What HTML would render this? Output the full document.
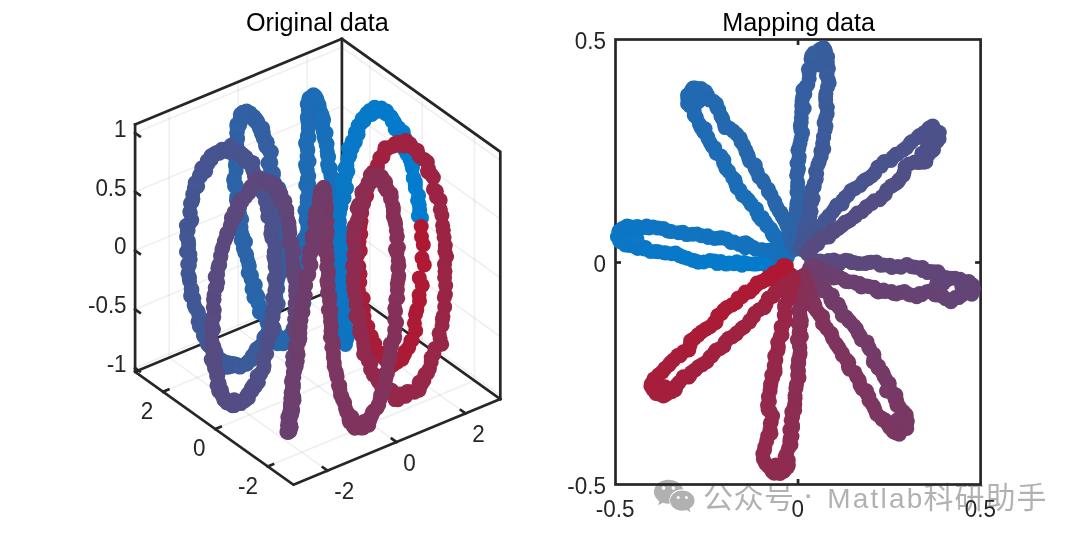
<!DOCTYPE html>
<html lang="zh"><head><meta charset="utf-8"><title>Original data / Mapping data</title>
<style>
html,body{margin:0;padding:0;background:#fff;}
body{width:1080px;height:539px;overflow:hidden;}
svg{display:block;font-family:"Liberation Sans","Noto Sans CJK SC",sans-serif;}
</style></head><body>
<svg width="1080" height="539" viewBox="0 0 1080 539">
<rect width="1080" height="539" fill="#fff"/>
<g stroke="#262626" stroke-opacity="0.07" stroke-width="1.7" fill="none">
<line x1="327.55" y1="470.67" x2="169.15" y2="357.67" />
<line x1="169.15" y1="357.67" x2="169.15" y2="110.47" />
<line x1="396.55" y1="442.04" x2="238.15" y2="329.04" />
<line x1="238.15" y1="329.04" x2="238.15" y2="81.84" />
<line x1="465.56" y1="413.41" x2="307.16" y2="300.41" />
<line x1="307.16" y1="300.41" x2="307.16" y2="53.21" />
<line x1="267.69" y1="466.39" x2="474.49" y2="380.59" />
<line x1="474.49" y1="380.59" x2="474.49" y2="133.39" />
<line x1="215.35" y1="429.05" x2="422.15" y2="343.25" />
<line x1="422.15" y1="343.25" x2="422.15" y2="96.05" />
<line x1="163.00" y1="391.70" x2="369.80" y2="305.90" />
<line x1="369.80" y1="305.90" x2="369.80" y2="58.70" />
<line x1="135.10" y1="368.10" x2="341.90" y2="282.30" />
<line x1="341.90" y1="282.30" x2="500.30" y2="395.30" />
<line x1="135.10" y1="309.33" x2="341.90" y2="223.53" />
<line x1="341.90" y1="223.53" x2="500.30" y2="336.53" />
<line x1="135.10" y1="250.56" x2="341.90" y2="164.76" />
<line x1="341.90" y1="164.76" x2="500.30" y2="277.76" />
<line x1="135.10" y1="191.79" x2="341.90" y2="105.99" />
<line x1="341.90" y1="105.99" x2="500.30" y2="218.99" />
<line x1="135.10" y1="133.02" x2="341.90" y2="47.22" />
<line x1="341.90" y1="47.22" x2="500.30" y2="160.22" />
</g>
<g stroke="#262626" stroke-width="2.70" fill="none" stroke-linecap="square" stroke-linejoin="miter">
<polyline points="135.10,371.80 341.90,286.00 500.30,399.00"/>
<polyline points="341.90,286.00 341.90,38.80"/>
<polyline points="135.10,124.60 341.90,38.80 500.30,151.80 500.30,399.00"/>
<polyline points="135.10,124.60 135.10,371.80 293.50,484.80 500.30,399.00"/>
<line x1="327.55" y1="470.67" x2="322.83" y2="467.30" />
<line x1="396.55" y1="442.04" x2="391.83" y2="438.67" />
<line x1="465.56" y1="413.41" x2="460.84" y2="410.05" />
<line x1="267.69" y1="466.39" x2="273.05" y2="464.17" />
<line x1="215.35" y1="429.05" x2="220.70" y2="426.82" />
<line x1="163.00" y1="391.70" x2="168.36" y2="389.48" />
<line x1="135.10" y1="368.10" x2="139.82" y2="371.47" />
<line x1="135.10" y1="309.33" x2="139.82" y2="312.70" />
<line x1="135.10" y1="250.56" x2="139.82" y2="253.93" />
<line x1="135.10" y1="191.79" x2="139.82" y2="195.15" />
<line x1="135.10" y1="133.02" x2="139.82" y2="136.38" />
</g>
<g><circle cx="335.4" cy="213.3" r="7.5" fill="#1671bc"/><circle cx="336.6" cy="214.7" r="7.5" fill="#1571bc"/><circle cx="335.0" cy="202.6" r="7.5" fill="#1671bc"/><circle cx="338.9" cy="222.6" r="7.5" fill="#1571bc"/><circle cx="336.7" cy="201.1" r="7.5" fill="#1671bc"/><circle cx="339.3" cy="220.9" r="7.5" fill="#1571bc"/><circle cx="335.0" cy="197.6" r="7.5" fill="#1670bb"/><circle cx="339.4" cy="229.4" r="7.5" fill="#1571bc"/><circle cx="333.7" cy="192.9" r="7.5" fill="#1670bb"/><circle cx="340.3" cy="232.8" r="7.5" fill="#1571bc"/><circle cx="333.9" cy="188.9" r="7.5" fill="#1670bb"/><circle cx="339.7" cy="236.9" r="7.5" fill="#1571bc"/><circle cx="332.9" cy="185.7" r="7.5" fill="#1670bb"/><circle cx="339.5" cy="241.1" r="7.5" fill="#1571bd"/><circle cx="332.8" cy="180.1" r="7.5" fill="#1670bb"/><circle cx="342.9" cy="241.8" r="7.5" fill="#1571bd"/><circle cx="333.3" cy="178.4" r="7.5" fill="#1770bb"/><circle cx="342.3" cy="249.1" r="7.5" fill="#1471bd"/><circle cx="330.8" cy="175.8" r="7.5" fill="#1770bb"/><circle cx="343.5" cy="254.2" r="7.5" fill="#1471bd"/><circle cx="328.7" cy="169.0" r="7.5" fill="#1770bb"/><circle cx="341.5" cy="258.1" r="7.5" fill="#1471bd"/><circle cx="330.4" cy="168.4" r="7.5" fill="#1770bb"/><circle cx="342.5" cy="262.6" r="7.5" fill="#1471bd"/><circle cx="327.6" cy="164.6" r="7.5" fill="#1770ba"/><circle cx="343.8" cy="268.0" r="7.5" fill="#1472bd"/><circle cx="328.6" cy="156.9" r="7.5" fill="#1770ba"/><circle cx="341.9" cy="267.7" r="7.5" fill="#1472bd"/><circle cx="327.5" cy="155.5" r="7.5" fill="#1770ba"/><circle cx="344.3" cy="273.5" r="7.5" fill="#1472bd"/><circle cx="327.2" cy="151.2" r="7.5" fill="#1770ba"/><circle cx="343.8" cy="275.2" r="7.5" fill="#1472be"/><circle cx="326.2" cy="145.2" r="7.5" fill="#1870ba"/><circle cx="344.2" cy="282.5" r="7.5" fill="#1372be"/><circle cx="327.1" cy="143.7" r="7.5" fill="#186fba"/><circle cx="344.0" cy="285.5" r="7.5" fill="#1372be"/><circle cx="324.7" cy="139.6" r="7.5" fill="#186fba"/><circle cx="343.3" cy="285.4" r="7.5" fill="#1372be"/><circle cx="324.2" cy="136.6" r="7.5" fill="#186fba"/><circle cx="344.2" cy="293.2" r="7.5" fill="#1372be"/><circle cx="326.1" cy="132.8" r="7.5" fill="#186fba"/><circle cx="344.4" cy="291.8" r="7.5" fill="#1372be"/><circle cx="323.2" cy="131.4" r="7.5" fill="#186fb9"/><circle cx="345.5" cy="299.0" r="7.5" fill="#1372be"/><circle cx="322.5" cy="125.2" r="7.5" fill="#186fb9"/><circle cx="346.2" cy="298.7" r="7.5" fill="#1372be"/><circle cx="322.5" cy="126.7" r="7.5" fill="#186fb9"/><circle cx="346.2" cy="302.2" r="7.5" fill="#1372be"/><circle cx="323.6" cy="119.7" r="7.5" fill="#186fb9"/><circle cx="346.5" cy="304.6" r="7.5" fill="#1272bf"/><circle cx="322.5" cy="120.3" r="7.5" fill="#196fb9"/><circle cx="344.4" cy="310.5" r="7.5" fill="#1272bf"/><circle cx="322.2" cy="116.3" r="7.5" fill="#196fb9"/><circle cx="344.7" cy="310.6" r="7.5" fill="#1273bf"/><circle cx="322.0" cy="114.7" r="7.5" fill="#196fb9"/><circle cx="346.4" cy="311.0" r="7.5" fill="#1273bf"/><circle cx="320.5" cy="111.9" r="7.5" fill="#196fb9"/><circle cx="347.6" cy="319.0" r="7.5" fill="#1273bf"/><circle cx="247.2" cy="259.1" r="7.5" fill="#2a65a9"/><circle cx="248.7" cy="263.8" r="7.5" fill="#2a65a9"/><circle cx="246.6" cy="254.3" r="7.5" fill="#2b65a9"/><circle cx="249.3" cy="266.5" r="7.5" fill="#2a65a9"/><circle cx="243.4" cy="248.6" r="7.5" fill="#2b65a9"/><circle cx="248.2" cy="272.7" r="7.5" fill="#2a65aa"/><circle cx="244.9" cy="252.7" r="7.5" fill="#2b64a9"/><circle cx="251.5" cy="275.3" r="7.5" fill="#2a65aa"/><circle cx="245.5" cy="241.7" r="7.5" fill="#2b64a9"/><circle cx="251.0" cy="278.7" r="7.5" fill="#2a65aa"/><circle cx="241.2" cy="240.4" r="7.5" fill="#2b64a9"/><circle cx="318.0" cy="110.3" r="7.5" fill="#196fb9"/><circle cx="252.9" cy="283.3" r="7.5" fill="#2a65aa"/><circle cx="242.8" cy="236.8" r="7.5" fill="#2b64a9"/><circle cx="255.3" cy="284.8" r="7.5" fill="#2a65aa"/><circle cx="345.5" cy="320.7" r="7.5" fill="#1273bf"/><circle cx="241.7" cy="233.2" r="7.5" fill="#2b64a8"/><circle cx="252.0" cy="289.0" r="7.5" fill="#2965aa"/><circle cx="241.0" cy="227.6" r="7.5" fill="#2b64a8"/><circle cx="253.9" cy="297.4" r="7.5" fill="#2965aa"/><circle cx="319.1" cy="107.5" r="7.5" fill="#196fb8"/><circle cx="240.2" cy="226.1" r="7.5" fill="#2b64a8"/><circle cx="256.5" cy="294.4" r="7.5" fill="#2965aa"/><circle cx="241.7" cy="219.2" r="7.5" fill="#2c64a8"/><circle cx="345.4" cy="320.1" r="7.5" fill="#1273bf"/><circle cx="257.8" cy="296.5" r="7.5" fill="#2965aa"/><circle cx="237.5" cy="220.9" r="7.5" fill="#2c64a8"/><circle cx="258.1" cy="303.4" r="7.5" fill="#2966ab"/><circle cx="319.0" cy="104.7" r="7.5" fill="#196eb8"/><circle cx="239.7" cy="214.5" r="7.5" fill="#2c64a8"/><circle cx="260.0" cy="306.0" r="7.5" fill="#2966ab"/><circle cx="345.2" cy="321.5" r="7.5" fill="#1273bf"/><circle cx="237.1" cy="208.3" r="7.5" fill="#2c64a8"/><circle cx="259.9" cy="311.7" r="7.5" fill="#2966ab"/><circle cx="317.8" cy="103.7" r="7.5" fill="#196eb8"/><circle cx="239.5" cy="207.9" r="7.5" fill="#2c64a8"/><circle cx="259.4" cy="312.1" r="7.5" fill="#2966ab"/><circle cx="346.7" cy="329.7" r="7.5" fill="#1173bf"/><circle cx="236.5" cy="200.5" r="7.5" fill="#2c64a8"/><circle cx="264.0" cy="312.8" r="7.5" fill="#2866ab"/><circle cx="317.3" cy="104.0" r="7.5" fill="#1a6eb8"/><circle cx="238.3" cy="194.9" r="7.5" fill="#2c64a7"/><circle cx="265.8" cy="317.0" r="7.5" fill="#2866ab"/><circle cx="347.5" cy="331.4" r="7.5" fill="#1173c0"/><circle cx="236.7" cy="196.8" r="7.5" fill="#2c63a7"/><circle cx="266.4" cy="319.6" r="7.5" fill="#2866ab"/><circle cx="316.5" cy="102.5" r="7.5" fill="#1a6eb8"/><circle cx="236.0" cy="186.9" r="7.5" fill="#2d63a7"/><circle cx="266.4" cy="319.1" r="7.5" fill="#2866ab"/><circle cx="347.0" cy="330.2" r="7.5" fill="#1173c0"/><circle cx="234.5" cy="186.0" r="7.5" fill="#2d63a7"/><circle cx="267.2" cy="323.3" r="7.5" fill="#2866ab"/><circle cx="317.0" cy="99.4" r="7.5" fill="#1a6eb8"/><circle cx="236.3" cy="185.3" r="7.5" fill="#2d63a7"/><circle cx="346.2" cy="331.8" r="7.5" fill="#1173c0"/><circle cx="269.2" cy="328.9" r="7.5" fill="#2866ac"/><circle cx="315.1" cy="101.3" r="7.5" fill="#1a6eb8"/><circle cx="233.6" cy="179.9" r="7.5" fill="#2d63a7"/><circle cx="269.8" cy="326.5" r="7.5" fill="#2866ac"/><circle cx="345.2" cy="331.3" r="7.5" fill="#1173c0"/><circle cx="234.4" cy="177.9" r="7.5" fill="#2d63a7"/><circle cx="273.1" cy="328.4" r="7.5" fill="#2866ac"/><circle cx="315.4" cy="96.6" r="7.5" fill="#1a6eb8"/><circle cx="236.1" cy="170.8" r="7.5" fill="#2d63a7"/><circle cx="273.4" cy="329.1" r="7.5" fill="#2766ac"/><circle cx="346.2" cy="335.8" r="7.5" fill="#1173c0"/><circle cx="315.2" cy="100.0" r="7.5" fill="#1a6eb8"/><circle cx="236.1" cy="167.7" r="7.5" fill="#2d63a7"/><circle cx="274.3" cy="329.1" r="7.5" fill="#2766ac"/><circle cx="345.6" cy="334.2" r="7.5" fill="#1173c0"/><circle cx="235.4" cy="164.9" r="7.5" fill="#2d63a6"/><circle cx="275.7" cy="334.0" r="7.5" fill="#2767ac"/><circle cx="313.5" cy="94.8" r="7.5" fill="#1a6eb8"/><circle cx="347.7" cy="336.4" r="7.5" fill="#1173c0"/><circle cx="275.9" cy="334.2" r="7.5" fill="#2767ac"/><circle cx="235.9" cy="159.3" r="7.5" fill="#2e63a6"/><circle cx="313.3" cy="98.5" r="7.5" fill="#1a6eb7"/><circle cx="276.8" cy="336.5" r="7.5" fill="#2767ac"/><circle cx="234.0" cy="154.9" r="7.5" fill="#2e63a6"/><circle cx="345.0" cy="336.7" r="7.5" fill="#1074c0"/><circle cx="277.7" cy="339.9" r="7.5" fill="#2767ac"/><circle cx="236.1" cy="155.6" r="7.5" fill="#2e63a6"/><circle cx="314.1" cy="97.9" r="7.5" fill="#1b6eb7"/><circle cx="347.0" cy="337.3" r="7.5" fill="#1074c0"/><circle cx="277.8" cy="337.9" r="7.5" fill="#2767ad"/><circle cx="234.2" cy="150.6" r="7.5" fill="#2e63a6"/><circle cx="314.8" cy="96.8" r="7.5" fill="#1b6eb7"/><circle cx="277.5" cy="343.7" r="7.5" fill="#2767ad"/><circle cx="345.1" cy="337.3" r="7.5" fill="#1074c1"/><circle cx="233.7" cy="148.7" r="7.5" fill="#2e63a6"/><circle cx="313.0" cy="96.6" r="7.5" fill="#1b6eb7"/><circle cx="280.7" cy="337.8" r="7.5" fill="#2667ad"/><circle cx="235.4" cy="145.5" r="7.5" fill="#2e62a6"/><circle cx="345.5" cy="344.4" r="7.5" fill="#1074c1"/><circle cx="280.8" cy="338.8" r="7.5" fill="#2667ad"/><circle cx="314.1" cy="97.1" r="7.5" fill="#1b6eb7"/><circle cx="236.2" cy="141.5" r="7.5" fill="#2e62a6"/><circle cx="345.9" cy="340.8" r="7.5" fill="#1074c1"/><circle cx="283.8" cy="341.2" r="7.5" fill="#2667ad"/><circle cx="313.7" cy="95.6" r="7.5" fill="#1b6db7"/><circle cx="236.7" cy="144.4" r="7.5" fill="#2e62a6"/><circle cx="344.6" cy="341.6" r="7.5" fill="#1074c1"/><circle cx="283.4" cy="343.8" r="7.5" fill="#2667ad"/><circle cx="237.6" cy="139.0" r="7.5" fill="#2f62a5"/><circle cx="310.1" cy="98.6" r="7.5" fill="#1b6db7"/><circle cx="285.1" cy="340.0" r="7.5" fill="#2667ad"/><circle cx="346.2" cy="340.6" r="7.5" fill="#1074c1"/><circle cx="237.3" cy="137.3" r="7.5" fill="#2f62a5"/><circle cx="311.9" cy="96.5" r="7.5" fill="#1b6db7"/><circle cx="284.2" cy="341.1" r="7.5" fill="#2667ad"/><circle cx="344.4" cy="342.6" r="7.5" fill="#1074c1"/><circle cx="237.2" cy="132.6" r="7.5" fill="#2f62a5"/><circle cx="417.9" cy="200.3" r="7.5" fill="#017dcf"/><circle cx="419.3" cy="205.1" r="7.5" fill="#007dcf"/><circle cx="417.7" cy="200.4" r="7.5" fill="#017dce"/><circle cx="419.7" cy="210.6" r="7.5" fill="#007dcf"/><circle cx="418.6" cy="195.4" r="7.5" fill="#017dce"/><circle cx="418.4" cy="215.9" r="7.5" fill="#007dcf"/><circle cx="415.3" cy="187.9" r="7.5" fill="#017cce"/><circle cx="421.5" cy="217.9" r="7.5" fill="#007dcf"/><circle cx="415.3" cy="184.5" r="7.5" fill="#017cce"/><circle cx="415.3" cy="181.7" r="7.5" fill="#017cce"/><circle cx="421.2" cy="226.5" r="7.5" fill="#b01832"/><circle cx="310.5" cy="101.4" r="7.5" fill="#1b6db7"/><circle cx="285.5" cy="338.5" r="7.5" fill="#2667ad"/><circle cx="413.5" cy="177.9" r="7.5" fill="#017cce"/><circle cx="413.3" cy="177.9" r="7.5" fill="#017cce"/><circle cx="421.5" cy="236.8" r="7.5" fill="#b01832"/><circle cx="412.4" cy="168.1" r="7.5" fill="#027cce"/><circle cx="236.7" cy="133.1" r="7.5" fill="#2f62a5"/><circle cx="343.8" cy="337.4" r="7.5" fill="#0f74c1"/><circle cx="412.5" cy="165.2" r="7.5" fill="#027cce"/><circle cx="423.3" cy="244.8" r="7.5" fill="#af1833"/><circle cx="411.5" cy="163.9" r="7.5" fill="#027ccd"/><circle cx="284.7" cy="339.9" r="7.5" fill="#2667ad"/><circle cx="310.9" cy="98.2" r="7.5" fill="#1c6db6"/><circle cx="409.8" cy="158.9" r="7.5" fill="#027ccd"/><circle cx="406.9" cy="154.0" r="7.5" fill="#027ccd"/><circle cx="422.0" cy="258.0" r="7.5" fill="#af1933"/><circle cx="237.3" cy="129.1" r="7.5" fill="#2f62a5"/><circle cx="346.3" cy="338.2" r="7.5" fill="#0f74c1"/><circle cx="407.7" cy="148.8" r="7.5" fill="#027ccd"/><circle cx="287.7" cy="341.1" r="7.5" fill="#2568ae"/><circle cx="408.6" cy="146.8" r="7.5" fill="#027ccd"/><circle cx="424.3" cy="264.9" r="7.5" fill="#af1933"/><circle cx="308.9" cy="98.3" r="7.5" fill="#1c6db6"/><circle cx="404.3" cy="149.5" r="7.5" fill="#027ccd"/><circle cx="237.0" cy="127.1" r="7.5" fill="#2f62a5"/><circle cx="404.5" cy="141.5" r="7.5" fill="#037ccd"/><circle cx="288.7" cy="339.1" r="7.5" fill="#2568ae"/><circle cx="342.9" cy="338.0" r="7.5" fill="#0f74c1"/><circle cx="419.3" cy="277.9" r="7.5" fill="#ae1933"/><circle cx="405.3" cy="138.7" r="7.5" fill="#037bcd"/><circle cx="310.9" cy="98.6" r="7.5" fill="#1c6db6"/><circle cx="403.0" cy="136.2" r="7.5" fill="#037bcd"/><circle cx="239.6" cy="125.3" r="7.5" fill="#2f62a5"/><circle cx="289.4" cy="335.4" r="7.5" fill="#2568ae"/><circle cx="422.3" cy="285.4" r="7.5" fill="#ae1934"/><circle cx="344.4" cy="335.2" r="7.5" fill="#0f74c2"/><circle cx="403.3" cy="132.0" r="7.5" fill="#037bcc"/><circle cx="307.2" cy="104.1" r="7.5" fill="#1c6db6"/><circle cx="398.5" cy="129.7" r="7.5" fill="#037bcc"/><circle cx="236.8" cy="124.4" r="7.5" fill="#2f62a5"/><circle cx="290.1" cy="337.4" r="7.5" fill="#2568ae"/><circle cx="419.1" cy="295.0" r="7.5" fill="#ae1934"/><circle cx="398.7" cy="127.9" r="7.5" fill="#037bcc"/><circle cx="343.0" cy="337.1" r="7.5" fill="#0f74c2"/><circle cx="395.2" cy="128.9" r="7.5" fill="#037bcc"/><circle cx="308.6" cy="106.0" r="7.5" fill="#1c6db6"/><circle cx="238.8" cy="125.4" r="7.5" fill="#3062a5"/><circle cx="291.7" cy="335.0" r="7.5" fill="#2568ae"/><circle cx="395.9" cy="125.6" r="7.5" fill="#037bcc"/><circle cx="419.5" cy="301.0" r="7.5" fill="#ae1934"/><circle cx="342.1" cy="336.5" r="7.5" fill="#0f74c2"/><circle cx="394.2" cy="121.9" r="7.5" fill="#047bcc"/><circle cx="291.7" cy="333.6" r="7.5" fill="#2568ae"/><circle cx="309.8" cy="104.5" r="7.5" fill="#1c6db6"/><circle cx="241.0" cy="118.9" r="7.5" fill="#3062a4"/><circle cx="394.7" cy="124.0" r="7.5" fill="#047bcc"/><circle cx="416.8" cy="309.7" r="7.5" fill="#ad1934"/><circle cx="342.2" cy="334.6" r="7.5" fill="#0f75c2"/><circle cx="392.1" cy="121.1" r="7.5" fill="#047bcc"/><circle cx="294.5" cy="333.8" r="7.5" fill="#2568ae"/><circle cx="309.4" cy="111.5" r="7.5" fill="#1c6db6"/><circle cx="240.3" cy="118.0" r="7.5" fill="#3062a4"/><circle cx="391.7" cy="117.7" r="7.5" fill="#047bcc"/><circle cx="342.6" cy="336.4" r="7.5" fill="#0f75c2"/><circle cx="415.5" cy="314.3" r="7.5" fill="#ad1a35"/><circle cx="294.3" cy="334.1" r="7.5" fill="#2568ae"/><circle cx="390.8" cy="116.6" r="7.5" fill="#047bcb"/><circle cx="309.0" cy="109.6" r="7.5" fill="#1c6db6"/><circle cx="240.4" cy="114.2" r="7.5" fill="#3061a4"/><circle cx="389.6" cy="115.8" r="7.5" fill="#047bcb"/><circle cx="293.2" cy="328.5" r="7.5" fill="#2468ae"/><circle cx="342.5" cy="329.8" r="7.5" fill="#0e75c2"/><circle cx="414.4" cy="323.2" r="7.5" fill="#ad1a35"/><circle cx="308.3" cy="109.9" r="7.5" fill="#1d6db6"/><circle cx="240.4" cy="118.0" r="7.5" fill="#3061a4"/><circle cx="386.6" cy="111.1" r="7.5" fill="#047bcb"/><circle cx="294.6" cy="329.4" r="7.5" fill="#2468af"/><circle cx="386.2" cy="114.0" r="7.5" fill="#047acb"/><circle cx="342.4" cy="331.7" r="7.5" fill="#0e75c2"/><circle cx="308.8" cy="115.6" r="7.5" fill="#1d6db5"/><circle cx="243.8" cy="114.6" r="7.5" fill="#3061a4"/><circle cx="415.7" cy="330.8" r="7.5" fill="#ad1a35"/><circle cx="384.7" cy="112.2" r="7.5" fill="#057acb"/><circle cx="296.8" cy="325.0" r="7.5" fill="#2468af"/><circle cx="340.3" cy="333.9" r="7.5" fill="#0e75c2"/><circle cx="383.1" cy="110.0" r="7.5" fill="#057acb"/><circle cx="309.7" cy="117.4" r="7.5" fill="#1d6cb5"/><circle cx="242.8" cy="112.3" r="7.5" fill="#3061a4"/><circle cx="296.5" cy="323.1" r="7.5" fill="#2468af"/><circle cx="380.8" cy="109.0" r="7.5" fill="#057acb"/><circle cx="412.2" cy="340.0" r="7.5" fill="#ac1a35"/><circle cx="341.2" cy="323.0" r="7.5" fill="#0e75c2"/><circle cx="307.3" cy="117.1" r="7.5" fill="#1d6cb5"/><circle cx="297.4" cy="323.7" r="7.5" fill="#2468af"/><circle cx="381.3" cy="108.0" r="7.5" fill="#057acb"/><circle cx="245.0" cy="117.4" r="7.5" fill="#3061a4"/><circle cx="340.5" cy="328.5" r="7.5" fill="#0e75c3"/><circle cx="378.2" cy="111.3" r="7.5" fill="#057acb"/><circle cx="307.7" cy="120.1" r="7.5" fill="#1d6cb5"/><circle cx="296.9" cy="321.2" r="7.5" fill="#2468af"/><circle cx="410.8" cy="340.9" r="7.5" fill="#ac1a35"/><circle cx="246.2" cy="113.8" r="7.5" fill="#3161a4"/><circle cx="376.1" cy="109.9" r="7.5" fill="#057aca"/><circle cx="308.3" cy="123.1" r="7.5" fill="#1d6cb5"/><circle cx="341.1" cy="321.8" r="7.5" fill="#0e75c3"/><circle cx="297.8" cy="319.7" r="7.5" fill="#2469af"/><circle cx="376.1" cy="111.0" r="7.5" fill="#057aca"/><circle cx="244.2" cy="113.0" r="7.5" fill="#3161a4"/><circle cx="408.7" cy="347.6" r="7.5" fill="#ac1a36"/><circle cx="308.8" cy="126.5" r="7.5" fill="#1d6cb5"/><circle cx="299.2" cy="317.6" r="7.5" fill="#2469af"/><circle cx="342.9" cy="323.0" r="7.5" fill="#0e75c3"/><circle cx="374.6" cy="107.2" r="7.5" fill="#057aca"/><circle cx="246.8" cy="114.0" r="7.5" fill="#3161a3"/><circle cx="374.8" cy="109.6" r="7.5" fill="#057aca"/><circle cx="300.5" cy="308.7" r="7.5" fill="#2369af"/><circle cx="308.3" cy="128.0" r="7.5" fill="#1d6cb5"/><circle cx="342.3" cy="317.4" r="7.5" fill="#0e75c3"/><circle cx="372.4" cy="110.0" r="7.5" fill="#067aca"/><circle cx="404.8" cy="351.8" r="7.5" fill="#ac1b36"/><circle cx="298.0" cy="309.3" r="7.5" fill="#2369af"/><circle cx="246.7" cy="111.0" r="7.5" fill="#3161a3"/><circle cx="307.9" cy="134.2" r="7.5" fill="#1e6cb5"/><circle cx="341.0" cy="313.2" r="7.5" fill="#0e75c3"/><circle cx="371.8" cy="114.4" r="7.5" fill="#067aca"/><circle cx="300.6" cy="309.4" r="7.5" fill="#2369b0"/><circle cx="307.4" cy="136.5" r="7.5" fill="#1e6cb5"/><circle cx="247.4" cy="115.0" r="7.5" fill="#3161a3"/><circle cx="369.9" cy="110.4" r="7.5" fill="#067aca"/><circle cx="340.4" cy="314.4" r="7.5" fill="#0d75c3"/><circle cx="404.5" cy="354.1" r="7.5" fill="#ab1b36"/><circle cx="299.3" cy="304.6" r="7.5" fill="#2369b0"/><circle cx="309.0" cy="137.7" r="7.5" fill="#1e6cb4"/><circle cx="367.6" cy="112.9" r="7.5" fill="#067aca"/><circle cx="250.1" cy="115.5" r="7.5" fill="#3161a3"/><circle cx="339.6" cy="307.4" r="7.5" fill="#0d75c3"/><circle cx="303.9" cy="303.0" r="7.5" fill="#2369b0"/><circle cx="366.8" cy="113.6" r="7.5" fill="#0679ca"/><circle cx="305.5" cy="143.1" r="7.5" fill="#1e6cb4"/><circle cx="402.1" cy="359.2" r="7.5" fill="#ab1b36"/><circle cx="301.6" cy="299.3" r="7.5" fill="#2369b0"/><circle cx="340.6" cy="303.8" r="7.5" fill="#0d75c3"/><circle cx="249.8" cy="115.3" r="7.5" fill="#3161a3"/><circle cx="364.8" cy="118.1" r="7.5" fill="#0679c9"/><circle cx="306.9" cy="146.4" r="7.5" fill="#1e6cb4"/><circle cx="302.6" cy="296.7" r="7.5" fill="#2369b0"/><circle cx="365.0" cy="116.8" r="7.5" fill="#0679c9"/><circle cx="337.3" cy="307.6" r="7.5" fill="#0d76c3"/><circle cx="307.5" cy="149.2" r="7.5" fill="#1e6cb4"/><circle cx="250.1" cy="112.9" r="7.5" fill="#3161a3"/><circle cx="302.6" cy="290.3" r="7.5" fill="#2369b0"/><circle cx="363.2" cy="119.7" r="7.5" fill="#0679c9"/><circle cx="397.1" cy="362.2" r="7.5" fill="#ab1b37"/><circle cx="307.8" cy="150.5" r="7.5" fill="#1e6cb4"/><circle cx="338.6" cy="301.2" r="7.5" fill="#0d76c4"/><circle cx="303.8" cy="286.3" r="7.5" fill="#2269b0"/><circle cx="364.0" cy="120.8" r="7.5" fill="#0779c9"/><circle cx="252.0" cy="116.2" r="7.5" fill="#3261a3"/><circle cx="307.1" cy="156.5" r="7.5" fill="#1e6cb4"/><circle cx="340.4" cy="296.0" r="7.5" fill="#0d76c4"/><circle cx="303.3" cy="283.6" r="7.5" fill="#2269b0"/><circle cx="362.1" cy="118.7" r="7.5" fill="#0779c9"/><circle cx="309.1" cy="161.5" r="7.5" fill="#1f6bb4"/><circle cx="251.7" cy="115.8" r="7.5" fill="#3261a3"/><circle cx="396.3" cy="359.3" r="7.5" fill="#ab1b37"/><circle cx="303.9" cy="279.2" r="7.5" fill="#2269b0"/><circle cx="361.3" cy="123.0" r="7.5" fill="#0779c9"/><circle cx="338.7" cy="295.2" r="7.5" fill="#0d76c4"/><circle cx="305.5" cy="164.7" r="7.5" fill="#1f6bb4"/><circle cx="301.5" cy="277.1" r="7.5" fill="#2269b1"/><circle cx="358.1" cy="125.5" r="7.5" fill="#0779c9"/><circle cx="254.0" cy="116.6" r="7.5" fill="#3260a3"/><circle cx="340.6" cy="293.3" r="7.5" fill="#0d76c4"/><circle cx="306.7" cy="168.4" r="7.5" fill="#1f6bb4"/><circle cx="304.3" cy="271.9" r="7.5" fill="#2269b1"/><circle cx="357.9" cy="130.5" r="7.5" fill="#0779c9"/><circle cx="307.2" cy="170.6" r="7.5" fill="#1f6bb3"/><circle cx="394.5" cy="363.4" r="7.5" fill="#aa1b37"/><circle cx="303.2" cy="271.0" r="7.5" fill="#226ab1"/><circle cx="338.5" cy="289.3" r="7.5" fill="#0c76c4"/><circle cx="255.7" cy="119.0" r="7.5" fill="#3260a2"/><circle cx="308.8" cy="176.1" r="7.5" fill="#1f6bb3"/><circle cx="358.1" cy="134.5" r="7.5" fill="#0779c9"/><circle cx="303.4" cy="264.0" r="7.5" fill="#226ab1"/><circle cx="336.6" cy="281.9" r="7.5" fill="#0c76c4"/><circle cx="307.3" cy="179.1" r="7.5" fill="#1f6bb3"/><circle cx="304.8" cy="263.8" r="7.5" fill="#226ab1"/><circle cx="355.3" cy="132.4" r="7.5" fill="#0779c8"/><circle cx="308.9" cy="184.2" r="7.5" fill="#1f6bb3"/><circle cx="254.2" cy="120.4" r="7.5" fill="#3260a2"/><circle cx="306.9" cy="257.9" r="7.5" fill="#216ab1"/><circle cx="338.6" cy="280.7" r="7.5" fill="#0c76c4"/><circle cx="356.1" cy="136.6" r="7.5" fill="#0779c8"/><circle cx="305.7" cy="185.0" r="7.5" fill="#1f6bb3"/><circle cx="306.9" cy="254.3" r="7.5" fill="#216ab1"/><circle cx="392.4" cy="365.4" r="7.5" fill="#aa1b37"/><circle cx="308.5" cy="190.7" r="7.5" fill="#206bb3"/><circle cx="306.2" cy="253.6" r="7.5" fill="#216ab1"/><circle cx="355.3" cy="142.0" r="7.5" fill="#0879c8"/><circle cx="337.8" cy="279.1" r="7.5" fill="#0c76c4"/><circle cx="308.5" cy="196.8" r="7.5" fill="#206bb3"/><circle cx="306.3" cy="243.9" r="7.5" fill="#216ab1"/><circle cx="256.7" cy="120.1" r="7.5" fill="#3260a2"/><circle cx="307.1" cy="197.9" r="7.5" fill="#206bb3"/><circle cx="304.4" cy="244.7" r="7.5" fill="#216ab2"/><circle cx="352.1" cy="141.3" r="7.5" fill="#0879c8"/><circle cx="307.2" cy="202.5" r="7.5" fill="#206bb3"/><circle cx="303.7" cy="238.9" r="7.5" fill="#216ab2"/><circle cx="337.8" cy="268.7" r="7.5" fill="#0c76c4"/><circle cx="307.3" cy="208.3" r="7.5" fill="#206bb2"/><circle cx="306.7" cy="233.8" r="7.5" fill="#216ab2"/><circle cx="304.9" cy="210.2" r="7.5" fill="#206bb2"/><circle cx="307.9" cy="228.6" r="7.5" fill="#216ab2"/><circle cx="306.8" cy="216.2" r="7.5" fill="#206ab2"/><circle cx="307.6" cy="223.8" r="7.5" fill="#216ab2"/><circle cx="306.0" cy="220.0" r="7.5" fill="#206ab2"/><circle cx="352.1" cy="148.3" r="7.5" fill="#0879c8"/><circle cx="257.9" cy="122.0" r="7.5" fill="#3260a2"/><circle cx="340.5" cy="268.3" r="7.5" fill="#0c76c4"/><circle cx="386.8" cy="357.5" r="7.5" fill="#aa1c38"/><circle cx="351.0" cy="147.3" r="7.5" fill="#0878c8"/><circle cx="339.5" cy="262.0" r="7.5" fill="#0c76c5"/><circle cx="348.4" cy="148.6" r="7.5" fill="#0878c8"/><circle cx="257.7" cy="124.1" r="7.5" fill="#3260a2"/><circle cx="337.7" cy="261.3" r="7.5" fill="#0c76c5"/><circle cx="349.8" cy="155.5" r="7.5" fill="#0878c8"/><circle cx="340.4" cy="257.6" r="7.5" fill="#0b76c5"/><circle cx="348.9" cy="157.1" r="7.5" fill="#0878c8"/><circle cx="386.5" cy="361.2" r="7.5" fill="#aa1c38"/><circle cx="259.3" cy="127.6" r="7.5" fill="#3360a2"/><circle cx="338.5" cy="252.5" r="7.5" fill="#0b77c5"/><circle cx="347.8" cy="158.5" r="7.5" fill="#0878c7"/><circle cx="340.1" cy="246.3" r="7.5" fill="#0b77c5"/><circle cx="346.9" cy="165.5" r="7.5" fill="#0978c7"/><circle cx="259.8" cy="128.8" r="7.5" fill="#3360a2"/><circle cx="344.8" cy="168.6" r="7.5" fill="#0978c7"/><circle cx="339.3" cy="246.7" r="7.5" fill="#0b77c5"/><circle cx="228.4" cy="362.7" r="7.5" fill="#3d5a98"/><circle cx="224.8" cy="367.1" r="7.5" fill="#3d5a98"/><circle cx="228.4" cy="365.2" r="7.5" fill="#3d5a99"/><circle cx="224.8" cy="362.0" r="7.5" fill="#3d5a98"/><circle cx="228.1" cy="367.3" r="7.5" fill="#3d5a99"/><circle cx="221.4" cy="360.0" r="7.5" fill="#3e5a98"/><circle cx="232.0" cy="363.5" r="7.5" fill="#3d5a99"/><circle cx="347.8" cy="171.2" r="7.5" fill="#0978c7"/><circle cx="338.1" cy="242.5" r="7.5" fill="#0b77c5"/><circle cx="222.0" cy="363.5" r="7.5" fill="#3e5a98"/><circle cx="233.7" cy="363.7" r="7.5" fill="#3d5a99"/><circle cx="217.7" cy="357.7" r="7.5" fill="#3e5a98"/><circle cx="232.4" cy="366.2" r="7.5" fill="#3d5a99"/><circle cx="385.2" cy="359.1" r="7.5" fill="#a91c38"/><circle cx="216.0" cy="357.6" r="7.5" fill="#3e5998"/><circle cx="346.1" cy="174.8" r="7.5" fill="#0978c7"/><circle cx="236.2" cy="364.2" r="7.5" fill="#3c5a99"/><circle cx="340.3" cy="234.9" r="7.5" fill="#0b77c5"/><circle cx="238.3" cy="365.7" r="7.5" fill="#3c5a99"/><circle cx="214.2" cy="353.9" r="7.5" fill="#3e5998"/><circle cx="262.7" cy="128.1" r="7.5" fill="#3360a2"/><circle cx="344.6" cy="180.3" r="7.5" fill="#0978c7"/><circle cx="341.2" cy="231.5" r="7.5" fill="#0b77c5"/><circle cx="239.9" cy="367.1" r="7.5" fill="#3c5a99"/><circle cx="216.0" cy="352.3" r="7.5" fill="#3e5998"/><circle cx="342.3" cy="183.4" r="7.5" fill="#0978c7"/><circle cx="240.7" cy="365.8" r="7.5" fill="#3c5b99"/><circle cx="213.5" cy="351.6" r="7.5" fill="#3e5997"/><circle cx="339.7" cy="230.0" r="7.5" fill="#0b77c6"/><circle cx="346.6" cy="188.1" r="7.5" fill="#0978c7"/><circle cx="240.5" cy="366.4" r="7.5" fill="#3c5b9a"/><circle cx="339.0" cy="226.0" r="7.5" fill="#0a77c6"/><circle cx="213.1" cy="352.2" r="7.5" fill="#3e5997"/><circle cx="343.5" cy="189.5" r="7.5" fill="#0978c7"/><circle cx="339.0" cy="223.5" r="7.5" fill="#0a77c6"/><circle cx="245.7" cy="364.3" r="7.5" fill="#3c5b9a"/><circle cx="343.1" cy="194.6" r="7.5" fill="#0a78c6"/><circle cx="339.5" cy="212.9" r="7.5" fill="#0a77c6"/><circle cx="213.2" cy="348.3" r="7.5" fill="#3f5997"/><circle cx="344.1" cy="197.9" r="7.5" fill="#0a77c6"/><circle cx="340.5" cy="207.8" r="7.5" fill="#0a77c6"/><circle cx="341.0" cy="206.0" r="7.5" fill="#0a77c6"/><circle cx="339.3" cy="204.8" r="7.5" fill="#0a77c6"/><circle cx="263.2" cy="132.5" r="7.5" fill="#3360a2"/><circle cx="246.0" cy="363.6" r="7.5" fill="#3c5b9a"/><circle cx="209.7" cy="346.2" r="7.5" fill="#3f5997"/><circle cx="247.0" cy="364.0" r="7.5" fill="#3c5b9a"/><circle cx="208.1" cy="344.9" r="7.5" fill="#3f5997"/><circle cx="381.8" cy="353.3" r="7.5" fill="#a91c38"/><circle cx="248.7" cy="361.1" r="7.5" fill="#3b5b9a"/><circle cx="206.9" cy="343.1" r="7.5" fill="#3f5997"/><circle cx="261.4" cy="133.5" r="7.5" fill="#3360a1"/><circle cx="251.1" cy="360.1" r="7.5" fill="#3b5b9a"/><circle cx="251.9" cy="356.2" r="7.5" fill="#3b5b9a"/><circle cx="204.0" cy="336.2" r="7.5" fill="#3f5997"/><circle cx="253.4" cy="355.4" r="7.5" fill="#3b5b9a"/><circle cx="203.5" cy="335.0" r="7.5" fill="#3f5997"/><circle cx="264.6" cy="138.2" r="7.5" fill="#3360a1"/><circle cx="255.9" cy="355.0" r="7.5" fill="#3b5b9a"/><circle cx="203.9" cy="336.3" r="7.5" fill="#3f5997"/><circle cx="254.8" cy="352.6" r="7.5" fill="#3b5b9b"/><circle cx="378.1" cy="355.0" r="7.5" fill="#a91c38"/><circle cx="201.1" cy="326.8" r="7.5" fill="#3f5996"/><circle cx="263.2" cy="138.1" r="7.5" fill="#3360a1"/><circle cx="256.3" cy="349.1" r="7.5" fill="#3b5b9b"/><circle cx="201.4" cy="327.6" r="7.5" fill="#3f5996"/><circle cx="258.3" cy="357.4" r="7.5" fill="#3b5b9b"/><circle cx="260.8" cy="348.6" r="7.5" fill="#3a5b9b"/><circle cx="267.3" cy="142.4" r="7.5" fill="#3360a1"/><circle cx="199.4" cy="326.5" r="7.5" fill="#405896"/><circle cx="259.9" cy="346.5" r="7.5" fill="#3a5c9b"/><circle cx="376.5" cy="352.6" r="7.5" fill="#a91c39"/><circle cx="199.2" cy="319.8" r="7.5" fill="#405896"/><circle cx="262.6" cy="343.7" r="7.5" fill="#3a5c9b"/><circle cx="265.3" cy="142.9" r="7.5" fill="#345fa1"/><circle cx="198.1" cy="321.4" r="7.5" fill="#405896"/><circle cx="263.9" cy="341.8" r="7.5" fill="#3a5c9b"/><circle cx="265.7" cy="146.4" r="7.5" fill="#345fa1"/><circle cx="263.9" cy="337.6" r="7.5" fill="#3a5c9b"/><circle cx="198.6" cy="314.1" r="7.5" fill="#405896"/><circle cx="265.2" cy="336.1" r="7.5" fill="#3a5c9b"/><circle cx="372.5" cy="347.3" r="7.5" fill="#a81c39"/><circle cx="198.0" cy="311.3" r="7.5" fill="#405896"/><circle cx="268.8" cy="150.0" r="7.5" fill="#345fa1"/><circle cx="266.9" cy="334.6" r="7.5" fill="#3a5c9c"/><circle cx="268.3" cy="331.8" r="7.5" fill="#3a5c9c"/><circle cx="195.4" cy="308.2" r="7.5" fill="#405896"/><circle cx="271.4" cy="151.8" r="7.5" fill="#345fa1"/><circle cx="268.7" cy="325.9" r="7.5" fill="#395c9c"/><circle cx="194.1" cy="304.9" r="7.5" fill="#405896"/><circle cx="270.5" cy="152.8" r="7.5" fill="#345fa1"/><circle cx="269.3" cy="324.6" r="7.5" fill="#395c9c"/><circle cx="374.8" cy="343.8" r="7.5" fill="#a81d39"/><circle cx="270.4" cy="322.4" r="7.5" fill="#395c9c"/><circle cx="193.8" cy="298.2" r="7.5" fill="#405895"/><circle cx="267.9" cy="163.0" r="7.5" fill="#345fa1"/><circle cx="272.8" cy="317.0" r="7.5" fill="#395c9c"/><circle cx="190.6" cy="295.9" r="7.5" fill="#415895"/><circle cx="270.6" cy="315.7" r="7.5" fill="#395c9c"/><circle cx="270.8" cy="162.4" r="7.5" fill="#345fa0"/><circle cx="272.7" cy="312.6" r="7.5" fill="#395c9c"/><circle cx="371.4" cy="336.2" r="7.5" fill="#a81d39"/><circle cx="270.5" cy="169.2" r="7.5" fill="#345fa0"/><circle cx="191.7" cy="291.8" r="7.5" fill="#415895"/><circle cx="274.9" cy="307.5" r="7.5" fill="#395c9c"/><circle cx="273.5" cy="173.0" r="7.5" fill="#345fa0"/><circle cx="275.7" cy="303.6" r="7.5" fill="#395d9d"/><circle cx="191.9" cy="289.5" r="7.5" fill="#415895"/><circle cx="278.2" cy="303.7" r="7.5" fill="#385d9d"/><circle cx="272.8" cy="176.9" r="7.5" fill="#355fa0"/><circle cx="275.8" cy="296.9" r="7.5" fill="#385d9d"/><circle cx="369.1" cy="335.1" r="7.5" fill="#a81d3a"/><circle cx="273.1" cy="175.3" r="7.5" fill="#355fa0"/><circle cx="191.2" cy="288.7" r="7.5" fill="#415895"/><circle cx="276.0" cy="290.5" r="7.5" fill="#385d9d"/><circle cx="274.8" cy="183.2" r="7.5" fill="#355fa0"/><circle cx="277.7" cy="288.8" r="7.5" fill="#385d9d"/><circle cx="277.0" cy="283.6" r="7.5" fill="#385d9d"/><circle cx="189.6" cy="281.3" r="7.5" fill="#415895"/><circle cx="273.9" cy="186.8" r="7.5" fill="#355fa0"/><circle cx="276.9" cy="276.9" r="7.5" fill="#385d9d"/><circle cx="279.0" cy="188.2" r="7.5" fill="#355fa0"/><circle cx="278.1" cy="277.9" r="7.5" fill="#385d9d"/><circle cx="367.8" cy="326.6" r="7.5" fill="#a71d3a"/><circle cx="278.0" cy="193.7" r="7.5" fill="#355ea0"/><circle cx="189.2" cy="278.1" r="7.5" fill="#415895"/><circle cx="280.8" cy="272.6" r="7.5" fill="#385d9d"/><circle cx="279.5" cy="200.3" r="7.5" fill="#355e9f"/><circle cx="279.5" cy="267.9" r="7.5" fill="#375d9e"/><circle cx="275.8" cy="199.8" r="7.5" fill="#355e9f"/><circle cx="280.5" cy="260.8" r="7.5" fill="#375d9e"/><circle cx="276.0" cy="204.4" r="7.5" fill="#365e9f"/><circle cx="278.9" cy="258.4" r="7.5" fill="#375d9e"/><circle cx="189.4" cy="277.1" r="7.5" fill="#415795"/><circle cx="279.1" cy="256.0" r="7.5" fill="#375d9e"/><circle cx="278.1" cy="207.0" r="7.5" fill="#365e9f"/><circle cx="279.3" cy="251.7" r="7.5" fill="#375d9e"/><circle cx="278.5" cy="210.4" r="7.5" fill="#365e9f"/><circle cx="280.2" cy="248.5" r="7.5" fill="#375e9e"/><circle cx="279.0" cy="218.7" r="7.5" fill="#365e9f"/><circle cx="279.4" cy="243.0" r="7.5" fill="#375e9e"/><circle cx="278.1" cy="222.5" r="7.5" fill="#365e9f"/><circle cx="364.2" cy="321.3" r="7.5" fill="#a71d3a"/><circle cx="280.3" cy="238.2" r="7.5" fill="#375e9e"/><circle cx="278.8" cy="224.9" r="7.5" fill="#365e9f"/><circle cx="279.2" cy="233.3" r="7.5" fill="#365e9e"/><circle cx="278.2" cy="231.0" r="7.5" fill="#365e9f"/><circle cx="188.0" cy="273.2" r="7.5" fill="#415795"/><circle cx="189.3" cy="265.6" r="7.5" fill="#425794"/><circle cx="364.0" cy="316.5" r="7.5" fill="#a71d3a"/><circle cx="187.7" cy="264.1" r="7.5" fill="#425794"/><circle cx="363.4" cy="309.8" r="7.5" fill="#a71d3a"/><circle cx="190.2" cy="259.3" r="7.5" fill="#425794"/><circle cx="189.9" cy="254.6" r="7.5" fill="#425794"/><circle cx="363.2" cy="298.2" r="7.5" fill="#a61e3b"/><circle cx="186.5" cy="251.7" r="7.5" fill="#425794"/><circle cx="359.9" cy="298.3" r="7.5" fill="#a61e3b"/><circle cx="188.5" cy="249.6" r="7.5" fill="#425794"/><circle cx="188.7" cy="244.7" r="7.5" fill="#425794"/><circle cx="358.4" cy="290.5" r="7.5" fill="#a61e3b"/><circle cx="188.4" cy="240.9" r="7.5" fill="#425794"/><circle cx="359.8" cy="282.5" r="7.5" fill="#a61e3b"/><circle cx="186.6" cy="236.8" r="7.5" fill="#435794"/><circle cx="360.1" cy="274.0" r="7.5" fill="#a51e3b"/><circle cx="188.1" cy="230.5" r="7.5" fill="#435793"/><circle cx="358.8" cy="266.2" r="7.5" fill="#a51e3c"/><circle cx="187.4" cy="231.1" r="7.5" fill="#435793"/><circle cx="357.4" cy="255.5" r="7.5" fill="#a51e3c"/><circle cx="186.4" cy="225.5" r="7.5" fill="#435793"/><circle cx="360.3" cy="250.8" r="7.5" fill="#a51e3c"/><circle cx="190.5" cy="222.0" r="7.5" fill="#435793"/><circle cx="359.0" cy="241.7" r="7.5" fill="#a51f3c"/><circle cx="191.8" cy="220.1" r="7.5" fill="#435693"/><circle cx="360.8" cy="234.1" r="7.5" fill="#a41f3c"/><circle cx="190.3" cy="213.0" r="7.5" fill="#435693"/><circle cx="360.0" cy="226.6" r="7.5" fill="#a41f3d"/><circle cx="189.8" cy="211.7" r="7.5" fill="#435693"/><circle cx="361.0" cy="221.6" r="7.5" fill="#a41f3d"/><circle cx="361.7" cy="212.9" r="7.5" fill="#a41f3d"/><circle cx="190.8" cy="203.5" r="7.5" fill="#445693"/><circle cx="362.7" cy="205.3" r="7.5" fill="#a31f3d"/><circle cx="190.6" cy="203.3" r="7.5" fill="#445693"/><circle cx="363.0" cy="198.3" r="7.5" fill="#a31f3d"/><circle cx="366.6" cy="195.9" r="7.5" fill="#a31f3e"/><circle cx="192.1" cy="201.8" r="7.5" fill="#445692"/><circle cx="367.4" cy="188.0" r="7.5" fill="#a3203e"/><circle cx="192.9" cy="199.1" r="7.5" fill="#445692"/><circle cx="368.3" cy="184.1" r="7.5" fill="#a3203e"/><circle cx="372.1" cy="181.6" r="7.5" fill="#a2203e"/><circle cx="192.7" cy="194.1" r="7.5" fill="#445692"/><circle cx="373.1" cy="171.9" r="7.5" fill="#a2203e"/><circle cx="194.3" cy="188.1" r="7.5" fill="#445692"/><circle cx="377.3" cy="167.8" r="7.5" fill="#a2203f"/><circle cx="377.4" cy="165.1" r="7.5" fill="#a2203f"/><circle cx="196.4" cy="187.3" r="7.5" fill="#445692"/><circle cx="379.8" cy="157.8" r="7.5" fill="#a1203f"/><circle cx="382.9" cy="157.0" r="7.5" fill="#a1203f"/><circle cx="197.7" cy="186.1" r="7.5" fill="#445692"/><circle cx="384.4" cy="151.7" r="7.5" fill="#a1213f"/><circle cx="385.0" cy="147.8" r="7.5" fill="#a12140"/><circle cx="195.2" cy="182.7" r="7.5" fill="#455692"/><circle cx="388.9" cy="147.8" r="7.5" fill="#a12140"/><circle cx="199.4" cy="176.5" r="7.5" fill="#455692"/><circle cx="393.0" cy="146.2" r="7.5" fill="#a02140"/><circle cx="395.1" cy="143.4" r="7.5" fill="#a02140"/><circle cx="200.1" cy="176.8" r="7.5" fill="#455692"/><circle cx="397.6" cy="142.3" r="7.5" fill="#a02140"/><circle cx="199.8" cy="174.9" r="7.5" fill="#455591"/><circle cx="398.9" cy="145.3" r="7.5" fill="#a02141"/><circle cx="403.8" cy="146.0" r="7.5" fill="#a02141"/><circle cx="201.0" cy="175.4" r="7.5" fill="#455591"/><circle cx="405.7" cy="140.3" r="7.5" fill="#9f2241"/><circle cx="201.7" cy="168.0" r="7.5" fill="#455591"/><circle cx="406.7" cy="142.7" r="7.5" fill="#9f2241"/><circle cx="410.0" cy="143.8" r="7.5" fill="#9f2241"/><circle cx="205.7" cy="171.1" r="7.5" fill="#455591"/><circle cx="411.8" cy="146.9" r="7.5" fill="#9f2241"/><circle cx="206.6" cy="165.4" r="7.5" fill="#455591"/><circle cx="415.7" cy="150.1" r="7.5" fill="#9e2242"/><circle cx="207.2" cy="160.9" r="7.5" fill="#465591"/><circle cx="417.4" cy="150.4" r="7.5" fill="#9e2242"/><circle cx="419.4" cy="156.4" r="7.5" fill="#9e2242"/><circle cx="207.9" cy="163.8" r="7.5" fill="#465591"/><circle cx="424.1" cy="159.4" r="7.5" fill="#9e2242"/><circle cx="211.1" cy="159.7" r="7.5" fill="#465591"/><circle cx="427.4" cy="162.1" r="7.5" fill="#9e2342"/><circle cx="211.0" cy="155.7" r="7.5" fill="#465591"/><circle cx="428.5" cy="168.7" r="7.5" fill="#9d2343"/><circle cx="210.3" cy="158.1" r="7.5" fill="#465591"/><circle cx="427.5" cy="171.6" r="7.5" fill="#9d2343"/><circle cx="213.8" cy="155.0" r="7.5" fill="#465590"/><circle cx="431.5" cy="174.9" r="7.5" fill="#9d2343"/><circle cx="214.4" cy="153.8" r="7.5" fill="#465590"/><circle cx="433.4" cy="177.6" r="7.5" fill="#9d2343"/><circle cx="275.2" cy="301.6" r="7.5" fill="#4e508a"/><circle cx="272.5" cy="298.5" r="7.5" fill="#4e508a"/><circle cx="275.9" cy="304.8" r="7.5" fill="#4e5089"/><circle cx="216.4" cy="152.8" r="7.5" fill="#465590"/><circle cx="274.8" cy="290.7" r="7.5" fill="#4e508a"/><circle cx="273.5" cy="308.4" r="7.5" fill="#4e5089"/><circle cx="275.5" cy="288.4" r="7.5" fill="#4e518a"/><circle cx="273.5" cy="312.0" r="7.5" fill="#4e5089"/><circle cx="275.9" cy="283.8" r="7.5" fill="#4d518a"/><circle cx="273.0" cy="316.9" r="7.5" fill="#4e5089"/><circle cx="274.2" cy="278.2" r="7.5" fill="#4d518a"/><circle cx="270.6" cy="322.0" r="7.5" fill="#4f5089"/><circle cx="275.7" cy="276.0" r="7.5" fill="#4d518a"/><circle cx="433.4" cy="189.4" r="7.5" fill="#9d2343"/><circle cx="273.4" cy="327.1" r="7.5" fill="#4f5089"/><circle cx="275.9" cy="268.2" r="7.5" fill="#4d518a"/><circle cx="218.4" cy="152.1" r="7.5" fill="#475590"/><circle cx="272.5" cy="331.9" r="7.5" fill="#4f5089"/><circle cx="275.1" cy="266.4" r="7.5" fill="#4d518a"/><circle cx="275.1" cy="261.5" r="7.5" fill="#4d518b"/><circle cx="272.4" cy="331.1" r="7.5" fill="#4f5089"/><circle cx="273.9" cy="257.1" r="7.5" fill="#4d518b"/><circle cx="436.4" cy="191.2" r="7.5" fill="#9c2343"/><circle cx="268.6" cy="336.8" r="7.5" fill="#4f5089"/><circle cx="218.3" cy="153.0" r="7.5" fill="#475490"/><circle cx="274.2" cy="251.7" r="7.5" fill="#4d518b"/><circle cx="267.5" cy="342.2" r="7.5" fill="#4f5088"/><circle cx="275.6" cy="246.5" r="7.5" fill="#4c518b"/><circle cx="274.8" cy="244.7" r="7.5" fill="#4c518b"/><circle cx="219.4" cy="153.2" r="7.5" fill="#475490"/><circle cx="268.0" cy="341.4" r="7.5" fill="#4f5088"/><circle cx="436.5" cy="197.0" r="7.5" fill="#9c2344"/><circle cx="271.8" cy="238.0" r="7.5" fill="#4c518b"/><circle cx="267.3" cy="344.4" r="7.5" fill="#4f4f88"/><circle cx="271.7" cy="234.9" r="7.5" fill="#4c518b"/><circle cx="221.9" cy="149.2" r="7.5" fill="#475490"/><circle cx="270.8" cy="233.4" r="7.5" fill="#4c518b"/><circle cx="440.2" cy="200.1" r="7.5" fill="#9c2344"/><circle cx="266.7" cy="353.7" r="7.5" fill="#504f88"/><circle cx="272.7" cy="228.0" r="7.5" fill="#4c528b"/><circle cx="224.0" cy="150.7" r="7.5" fill="#475490"/><circle cx="271.6" cy="227.6" r="7.5" fill="#4c528c"/><circle cx="264.9" cy="356.1" r="7.5" fill="#504f88"/><circle cx="440.3" cy="209.2" r="7.5" fill="#9c2444"/><circle cx="272.3" cy="221.8" r="7.5" fill="#4c528c"/><circle cx="226.3" cy="149.0" r="7.5" fill="#475490"/><circle cx="263.5" cy="359.2" r="7.5" fill="#504f88"/><circle cx="267.8" cy="216.7" r="7.5" fill="#4b528c"/><circle cx="228.5" cy="149.4" r="7.5" fill="#47548f"/><circle cx="268.7" cy="213.7" r="7.5" fill="#4b528c"/><circle cx="441.9" cy="215.5" r="7.5" fill="#9c2444"/><circle cx="263.1" cy="361.0" r="7.5" fill="#504f88"/><circle cx="268.2" cy="208.7" r="7.5" fill="#4b528c"/><circle cx="228.5" cy="152.0" r="7.5" fill="#47548f"/><circle cx="267.2" cy="208.4" r="7.5" fill="#4b528c"/><circle cx="229.8" cy="149.4" r="7.5" fill="#48548f"/><circle cx="265.4" cy="201.4" r="7.5" fill="#4b528c"/><circle cx="442.6" cy="225.3" r="7.5" fill="#9b2444"/><circle cx="264.1" cy="366.1" r="7.5" fill="#504f88"/><circle cx="266.0" cy="198.9" r="7.5" fill="#4b528c"/><circle cx="232.6" cy="149.1" r="7.5" fill="#48548f"/><circle cx="266.1" cy="195.8" r="7.5" fill="#4b528c"/><circle cx="231.0" cy="145.2" r="7.5" fill="#48548f"/><circle cx="263.5" cy="369.0" r="7.5" fill="#504f88"/><circle cx="265.6" cy="192.1" r="7.5" fill="#4b528d"/><circle cx="443.3" cy="230.3" r="7.5" fill="#9b2445"/><circle cx="234.6" cy="150.2" r="7.5" fill="#48548f"/><circle cx="262.8" cy="193.3" r="7.5" fill="#4a528d"/><circle cx="262.6" cy="186.0" r="7.5" fill="#4a528d"/><circle cx="237.6" cy="154.0" r="7.5" fill="#48548f"/><circle cx="259.2" cy="182.5" r="7.5" fill="#4a528d"/><circle cx="260.7" cy="373.6" r="7.5" fill="#504f87"/><circle cx="444.1" cy="237.2" r="7.5" fill="#9b2445"/><circle cx="239.5" cy="151.7" r="7.5" fill="#48548f"/><circle cx="259.6" cy="181.9" r="7.5" fill="#4a538d"/><circle cx="239.3" cy="152.0" r="7.5" fill="#48548f"/><circle cx="257.5" cy="179.7" r="7.5" fill="#4a538d"/><circle cx="242.6" cy="154.4" r="7.5" fill="#48538e"/><circle cx="255.5" cy="175.6" r="7.5" fill="#4a538d"/><circle cx="243.2" cy="158.6" r="7.5" fill="#49538e"/><circle cx="254.4" cy="176.1" r="7.5" fill="#4a538d"/><circle cx="245.6" cy="157.1" r="7.5" fill="#49538e"/><circle cx="253.2" cy="170.8" r="7.5" fill="#4a538d"/><circle cx="445.3" cy="245.5" r="7.5" fill="#9b2445"/><circle cx="260.4" cy="374.0" r="7.5" fill="#504f87"/><circle cx="252.5" cy="168.7" r="7.5" fill="#49538e"/><circle cx="245.0" cy="161.0" r="7.5" fill="#49538e"/><circle cx="252.9" cy="162.6" r="7.5" fill="#49538e"/><circle cx="246.0" cy="157.6" r="7.5" fill="#49538e"/><circle cx="250.3" cy="164.0" r="7.5" fill="#49538e"/><circle cx="249.0" cy="163.3" r="7.5" fill="#49538e"/><circle cx="444.9" cy="251.3" r="7.5" fill="#9b2445"/><circle cx="257.1" cy="376.1" r="7.5" fill="#514f87"/><circle cx="446.6" cy="256.6" r="7.5" fill="#9a2445"/><circle cx="258.4" cy="382.2" r="7.5" fill="#514f87"/><circle cx="444.5" cy="264.6" r="7.5" fill="#9a2445"/><circle cx="368.0" cy="358.3" r="7.5" fill="#92294d"/><circle cx="368.3" cy="360.7" r="7.5" fill="#92294d"/><circle cx="363.6" cy="354.0" r="7.5" fill="#912a4d"/><circle cx="371.2" cy="362.6" r="7.5" fill="#92294d"/><circle cx="364.0" cy="346.8" r="7.5" fill="#912a4d"/><circle cx="370.5" cy="369.4" r="7.5" fill="#92294d"/><circle cx="363.7" cy="343.4" r="7.5" fill="#912a4e"/><circle cx="373.4" cy="374.9" r="7.5" fill="#92294c"/><circle cx="256.2" cy="382.7" r="7.5" fill="#514f87"/><circle cx="445.0" cy="271.3" r="7.5" fill="#9a2546"/><circle cx="376.2" cy="375.5" r="7.5" fill="#92294c"/><circle cx="362.0" cy="336.7" r="7.5" fill="#912a4e"/><circle cx="377.5" cy="379.5" r="7.5" fill="#93294c"/><circle cx="359.6" cy="332.3" r="7.5" fill="#912a4e"/><circle cx="378.3" cy="381.6" r="7.5" fill="#93294c"/><circle cx="360.0" cy="327.9" r="7.5" fill="#912a4e"/><circle cx="444.6" cy="277.4" r="7.5" fill="#9a2546"/><circle cx="381.8" cy="387.4" r="7.5" fill="#93294c"/><circle cx="385.4" cy="388.0" r="7.5" fill="#93294c"/><circle cx="359.3" cy="321.6" r="7.5" fill="#902a4e"/><circle cx="253.6" cy="384.8" r="7.5" fill="#514f87"/><circle cx="445.7" cy="285.6" r="7.5" fill="#9a2546"/><circle cx="384.8" cy="392.7" r="7.5" fill="#93284c"/><circle cx="355.9" cy="315.9" r="7.5" fill="#902a4e"/><circle cx="388.7" cy="391.7" r="7.5" fill="#94284b"/><circle cx="445.4" cy="294.5" r="7.5" fill="#992546"/><circle cx="391.5" cy="390.2" r="7.5" fill="#94284b"/><circle cx="358.9" cy="312.9" r="7.5" fill="#902a4e"/><circle cx="255.5" cy="386.1" r="7.5" fill="#514f87"/><circle cx="391.7" cy="390.9" r="7.5" fill="#94284b"/><circle cx="444.3" cy="297.4" r="7.5" fill="#992546"/><circle cx="394.9" cy="399.6" r="7.5" fill="#94284b"/><circle cx="356.3" cy="304.8" r="7.5" fill="#902a4f"/><circle cx="395.7" cy="398.2" r="7.5" fill="#94284b"/><circle cx="444.7" cy="306.9" r="7.5" fill="#992546"/><circle cx="397.8" cy="399.7" r="7.5" fill="#94284b"/><circle cx="356.6" cy="301.9" r="7.5" fill="#902b4f"/><circle cx="252.3" cy="390.6" r="7.5" fill="#514e87"/><circle cx="443.0" cy="316.4" r="7.5" fill="#992547"/><circle cx="399.8" cy="393.9" r="7.5" fill="#95284a"/><circle cx="442.4" cy="319.6" r="7.5" fill="#992547"/><circle cx="402.8" cy="396.2" r="7.5" fill="#95284a"/><circle cx="354.9" cy="294.8" r="7.5" fill="#902b4f"/><circle cx="405.7" cy="396.2" r="7.5" fill="#95274a"/><circle cx="442.1" cy="325.4" r="7.5" fill="#992547"/><circle cx="407.6" cy="392.9" r="7.5" fill="#95274a"/><circle cx="251.2" cy="388.2" r="7.5" fill="#514e87"/><circle cx="439.1" cy="333.2" r="7.5" fill="#982647"/><circle cx="407.5" cy="391.4" r="7.5" fill="#95274a"/><circle cx="353.8" cy="289.2" r="7.5" fill="#8f2b4f"/><circle cx="440.1" cy="338.2" r="7.5" fill="#982647"/><circle cx="411.3" cy="391.7" r="7.5" fill="#96274a"/><circle cx="441.7" cy="344.3" r="7.5" fill="#982647"/><circle cx="414.4" cy="392.3" r="7.5" fill="#962749"/><circle cx="434.9" cy="348.6" r="7.5" fill="#982648"/><circle cx="419.1" cy="390.3" r="7.5" fill="#962749"/><circle cx="419.2" cy="382.3" r="7.5" fill="#962749"/><circle cx="433.9" cy="354.1" r="7.5" fill="#982648"/><circle cx="421.3" cy="384.5" r="7.5" fill="#962749"/><circle cx="431.2" cy="357.6" r="7.5" fill="#972648"/><circle cx="353.4" cy="282.0" r="7.5" fill="#8f2b4f"/><circle cx="423.9" cy="380.5" r="7.5" fill="#962749"/><circle cx="431.2" cy="361.9" r="7.5" fill="#972648"/><circle cx="248.4" cy="393.3" r="7.5" fill="#514e86"/><circle cx="424.9" cy="374.2" r="7.5" fill="#972749"/><circle cx="429.4" cy="368.7" r="7.5" fill="#972648"/><circle cx="427.6" cy="372.9" r="7.5" fill="#972648"/><circle cx="353.3" cy="276.7" r="7.5" fill="#8f2b4f"/><circle cx="248.4" cy="397.9" r="7.5" fill="#524e86"/><circle cx="355.7" cy="267.2" r="7.5" fill="#8f2b50"/><circle cx="247.6" cy="396.4" r="7.5" fill="#524e86"/><circle cx="352.6" cy="266.2" r="7.5" fill="#8f2b50"/><circle cx="247.3" cy="397.8" r="7.5" fill="#524e86"/><circle cx="354.3" cy="262.2" r="7.5" fill="#8f2b50"/><circle cx="246.7" cy="395.7" r="7.5" fill="#524e86"/><circle cx="354.0" cy="254.7" r="7.5" fill="#8e2b50"/><circle cx="243.7" cy="401.0" r="7.5" fill="#524e86"/><circle cx="355.5" cy="251.5" r="7.5" fill="#8e2b50"/><circle cx="354.5" cy="244.3" r="7.5" fill="#8e2b50"/><circle cx="244.9" cy="400.8" r="7.5" fill="#524e86"/><circle cx="353.5" cy="240.4" r="7.5" fill="#8e2c50"/><circle cx="240.8" cy="403.6" r="7.5" fill="#524e86"/><circle cx="353.7" cy="234.3" r="7.5" fill="#8e2c51"/><circle cx="239.9" cy="401.2" r="7.5" fill="#524e86"/><circle cx="354.4" cy="234.0" r="7.5" fill="#8e2c51"/><circle cx="239.6" cy="401.5" r="7.5" fill="#534e85"/><circle cx="238.8" cy="401.8" r="7.5" fill="#534e85"/><circle cx="354.3" cy="226.0" r="7.5" fill="#8d2c51"/><circle cx="239.3" cy="401.9" r="7.5" fill="#534e85"/><circle cx="357.3" cy="220.9" r="7.5" fill="#8d2c51"/><circle cx="233.5" cy="403.7" r="7.5" fill="#534d85"/><circle cx="359.0" cy="216.1" r="7.5" fill="#8d2c51"/><circle cx="234.1" cy="403.7" r="7.5" fill="#534d85"/><circle cx="360.2" cy="211.0" r="7.5" fill="#8d2c51"/><circle cx="234.2" cy="405.6" r="7.5" fill="#534d85"/><circle cx="357.1" cy="208.2" r="7.5" fill="#8d2c51"/><circle cx="234.2" cy="399.8" r="7.5" fill="#534d85"/><circle cx="358.6" cy="204.7" r="7.5" fill="#8d2c52"/><circle cx="232.4" cy="405.7" r="7.5" fill="#534d85"/><circle cx="295.2" cy="303.5" r="7.5" fill="#644476"/><circle cx="297.9" cy="298.4" r="7.5" fill="#634476"/><circle cx="295.2" cy="311.5" r="7.5" fill="#644476"/><circle cx="295.8" cy="295.2" r="7.5" fill="#634476"/><circle cx="295.1" cy="311.2" r="7.5" fill="#644476"/><circle cx="295.5" cy="290.2" r="7.5" fill="#634477"/><circle cx="294.6" cy="319.5" r="7.5" fill="#644476"/><circle cx="295.9" cy="286.6" r="7.5" fill="#634477"/><circle cx="297.8" cy="322.4" r="7.5" fill="#644476"/><circle cx="294.8" cy="279.5" r="7.5" fill="#634477"/><circle cx="295.9" cy="326.7" r="7.5" fill="#644376"/><circle cx="363.7" cy="202.9" r="7.5" fill="#8c2c52"/><circle cx="294.4" cy="275.8" r="7.5" fill="#634477"/><circle cx="293.7" cy="329.9" r="7.5" fill="#644375"/><circle cx="229.7" cy="403.0" r="7.5" fill="#544d85"/><circle cx="293.1" cy="274.0" r="7.5" fill="#634477"/><circle cx="296.0" cy="335.5" r="7.5" fill="#644375"/><circle cx="294.3" cy="269.7" r="7.5" fill="#634477"/><circle cx="297.5" cy="342.0" r="7.5" fill="#654375"/><circle cx="293.1" cy="265.6" r="7.5" fill="#624577"/><circle cx="362.3" cy="194.3" r="7.5" fill="#8c2d52"/><circle cx="296.0" cy="344.8" r="7.5" fill="#654375"/><circle cx="228.9" cy="402.4" r="7.5" fill="#544d84"/><circle cx="292.5" cy="262.5" r="7.5" fill="#624577"/><circle cx="294.7" cy="346.5" r="7.5" fill="#654375"/><circle cx="292.2" cy="254.9" r="7.5" fill="#624577"/><circle cx="295.4" cy="352.6" r="7.5" fill="#654375"/><circle cx="293.5" cy="252.5" r="7.5" fill="#624578"/><circle cx="227.1" cy="401.0" r="7.5" fill="#544d84"/><circle cx="363.4" cy="193.1" r="7.5" fill="#8c2d52"/><circle cx="330.4" cy="316.2" r="7.5" fill="#7a3762"/><circle cx="330.9" cy="310.0" r="7.5" fill="#7a3762"/><circle cx="330.5" cy="321.2" r="7.5" fill="#7a3762"/><circle cx="328.4" cy="309.8" r="7.5" fill="#7a3763"/><circle cx="331.4" cy="326.5" r="7.5" fill="#7a3762"/><circle cx="329.5" cy="300.7" r="7.5" fill="#793763"/><circle cx="292.7" cy="356.3" r="7.5" fill="#654375"/><circle cx="292.4" cy="249.0" r="7.5" fill="#624578"/><circle cx="331.0" cy="331.0" r="7.5" fill="#7a3762"/><circle cx="329.8" cy="295.8" r="7.5" fill="#793763"/><circle cx="330.4" cy="337.2" r="7.5" fill="#7a3762"/><circle cx="327.5" cy="292.9" r="7.5" fill="#793763"/><circle cx="332.8" cy="340.6" r="7.5" fill="#7b3762"/><circle cx="291.8" cy="242.6" r="7.5" fill="#624578"/><circle cx="295.6" cy="357.3" r="7.5" fill="#654375"/><circle cx="227.0" cy="403.0" r="7.5" fill="#544d84"/><circle cx="327.5" cy="284.6" r="7.5" fill="#793863"/><circle cx="333.5" cy="345.3" r="7.5" fill="#7b3762"/><circle cx="361.8" cy="192.0" r="7.5" fill="#8c2d52"/><circle cx="328.4" cy="285.9" r="7.5" fill="#793863"/><circle cx="290.3" cy="242.2" r="7.5" fill="#624578"/><circle cx="331.8" cy="347.3" r="7.5" fill="#7b3661"/><circle cx="292.7" cy="363.6" r="7.5" fill="#654375"/><circle cx="326.9" cy="281.1" r="7.5" fill="#793863"/><circle cx="333.5" cy="353.5" r="7.5" fill="#7b3661"/><circle cx="225.9" cy="399.6" r="7.5" fill="#544d84"/><circle cx="289.1" cy="242.0" r="7.5" fill="#624578"/><circle cx="294.3" cy="366.5" r="7.5" fill="#664374"/><circle cx="328.2" cy="276.0" r="7.5" fill="#793863"/><circle cx="333.4" cy="357.6" r="7.5" fill="#7b3661"/><circle cx="365.1" cy="189.6" r="7.5" fill="#8c2d52"/><circle cx="289.8" cy="232.7" r="7.5" fill="#614578"/><circle cx="328.5" cy="271.4" r="7.5" fill="#783864"/><circle cx="334.3" cy="362.9" r="7.5" fill="#7b3661"/><circle cx="294.7" cy="370.8" r="7.5" fill="#664374"/><circle cx="223.9" cy="399.7" r="7.5" fill="#544d84"/><circle cx="288.7" cy="228.9" r="7.5" fill="#614578"/><circle cx="326.7" cy="267.1" r="7.5" fill="#783864"/><circle cx="334.2" cy="366.3" r="7.5" fill="#7b3661"/><circle cx="293.8" cy="377.3" r="7.5" fill="#664374"/><circle cx="365.5" cy="188.5" r="7.5" fill="#8c2d52"/><circle cx="289.3" cy="227.9" r="7.5" fill="#614578"/><circle cx="327.5" cy="259.9" r="7.5" fill="#783864"/><circle cx="336.0" cy="371.5" r="7.5" fill="#7c3661"/><circle cx="224.4" cy="399.9" r="7.5" fill="#544d84"/><circle cx="292.4" cy="379.1" r="7.5" fill="#664374"/><circle cx="289.0" cy="223.0" r="7.5" fill="#614578"/><circle cx="327.2" cy="255.0" r="7.5" fill="#783864"/><circle cx="336.5" cy="374.5" r="7.5" fill="#7c3661"/><circle cx="368.7" cy="183.4" r="7.5" fill="#8b2d53"/><circle cx="222.5" cy="394.7" r="7.5" fill="#544d84"/><circle cx="292.9" cy="384.6" r="7.5" fill="#664274"/><circle cx="287.8" cy="219.9" r="7.5" fill="#614579"/><circle cx="325.1" cy="251.8" r="7.5" fill="#783864"/><circle cx="337.1" cy="376.9" r="7.5" fill="#7c3661"/><circle cx="286.9" cy="213.6" r="7.5" fill="#614579"/><circle cx="293.3" cy="384.5" r="7.5" fill="#664274"/><circle cx="338.4" cy="385.2" r="7.5" fill="#7c3660"/><circle cx="222.1" cy="395.5" r="7.5" fill="#554d84"/><circle cx="326.6" cy="247.4" r="7.5" fill="#783864"/><circle cx="368.0" cy="182.7" r="7.5" fill="#8b2d53"/><circle cx="286.7" cy="209.2" r="7.5" fill="#614679"/><circle cx="339.7" cy="385.6" r="7.5" fill="#7c3660"/><circle cx="325.8" cy="246.8" r="7.5" fill="#783864"/><circle cx="292.6" cy="387.4" r="7.5" fill="#664274"/><circle cx="221.5" cy="390.0" r="7.5" fill="#554c84"/><circle cx="284.5" cy="212.5" r="7.5" fill="#614679"/><circle cx="371.0" cy="179.8" r="7.5" fill="#8b2d53"/><circle cx="339.9" cy="389.3" r="7.5" fill="#7c3660"/><circle cx="326.3" cy="238.1" r="7.5" fill="#783864"/><circle cx="291.1" cy="392.7" r="7.5" fill="#664274"/><circle cx="220.1" cy="391.0" r="7.5" fill="#554c83"/><circle cx="286.6" cy="209.9" r="7.5" fill="#604679"/><circle cx="340.5" cy="394.8" r="7.5" fill="#7c3660"/><circle cx="325.3" cy="233.2" r="7.5" fill="#773965"/><circle cx="293.9" cy="397.1" r="7.5" fill="#674274"/><circle cx="369.8" cy="180.7" r="7.5" fill="#8b2d53"/><circle cx="284.9" cy="201.3" r="7.5" fill="#604679"/><circle cx="218.7" cy="391.3" r="7.5" fill="#554c83"/><circle cx="341.9" cy="396.2" r="7.5" fill="#7d3660"/><circle cx="327.2" cy="231.6" r="7.5" fill="#773965"/><circle cx="292.3" cy="399.1" r="7.5" fill="#674273"/><circle cx="281.6" cy="201.7" r="7.5" fill="#604679"/><circle cx="217.0" cy="385.2" r="7.5" fill="#554c83"/><circle cx="373.7" cy="179.3" r="7.5" fill="#8b2d53"/><circle cx="342.4" cy="399.3" r="7.5" fill="#7d3560"/><circle cx="327.0" cy="231.7" r="7.5" fill="#773965"/><circle cx="280.8" cy="201.1" r="7.5" fill="#604679"/><circle cx="291.0" cy="405.7" r="7.5" fill="#674273"/><circle cx="219.2" cy="383.4" r="7.5" fill="#554c83"/><circle cx="344.2" cy="402.3" r="7.5" fill="#7d3560"/><circle cx="370.3" cy="175.0" r="7.5" fill="#8b2d53"/><circle cx="280.9" cy="193.9" r="7.5" fill="#604679"/><circle cx="327.2" cy="221.6" r="7.5" fill="#773965"/><circle cx="290.5" cy="404.0" r="7.5" fill="#674273"/><circle cx="344.6" cy="402.8" r="7.5" fill="#7d355f"/><circle cx="218.2" cy="384.7" r="7.5" fill="#554c83"/><circle cx="279.7" cy="197.1" r="7.5" fill="#60467a"/><circle cx="324.3" cy="223.2" r="7.5" fill="#773965"/><circle cx="374.4" cy="175.3" r="7.5" fill="#8a2e53"/><circle cx="292.7" cy="409.8" r="7.5" fill="#674273"/><circle cx="345.5" cy="408.4" r="7.5" fill="#7d355f"/><circle cx="217.9" cy="375.0" r="7.5" fill="#554c83"/><circle cx="278.8" cy="192.3" r="7.5" fill="#60467a"/><circle cx="325.0" cy="221.1" r="7.5" fill="#773965"/><circle cx="277.3" cy="193.3" r="7.5" fill="#5f467a"/><circle cx="291.8" cy="407.4" r="7.5" fill="#674273"/><circle cx="347.8" cy="413.6" r="7.5" fill="#7d355f"/><circle cx="216.8" cy="376.2" r="7.5" fill="#564c83"/><circle cx="374.1" cy="176.2" r="7.5" fill="#8a2e54"/><circle cx="325.6" cy="214.0" r="7.5" fill="#773965"/><circle cx="275.7" cy="187.8" r="7.5" fill="#5f467a"/><circle cx="346.7" cy="412.0" r="7.5" fill="#7d355f"/><circle cx="216.8" cy="374.6" r="7.5" fill="#564c83"/><circle cx="290.3" cy="412.3" r="7.5" fill="#674273"/><circle cx="378.5" cy="175.6" r="7.5" fill="#8a2e54"/><circle cx="275.9" cy="186.7" r="7.5" fill="#5f467a"/><circle cx="326.6" cy="208.1" r="7.5" fill="#763965"/><circle cx="214.6" cy="368.4" r="7.5" fill="#564c82"/><circle cx="349.0" cy="419.8" r="7.5" fill="#7e355f"/><circle cx="291.0" cy="415.3" r="7.5" fill="#674273"/><circle cx="273.4" cy="185.4" r="7.5" fill="#5f467a"/><circle cx="377.0" cy="179.0" r="7.5" fill="#8a2e54"/><circle cx="325.3" cy="210.4" r="7.5" fill="#763966"/><circle cx="215.1" cy="364.6" r="7.5" fill="#564c82"/><circle cx="349.4" cy="417.1" r="7.5" fill="#7e355f"/><circle cx="274.6" cy="184.9" r="7.5" fill="#5f467a"/><circle cx="291.7" cy="414.4" r="7.5" fill="#684273"/><circle cx="213.8" cy="364.0" r="7.5" fill="#564c82"/><circle cx="377.7" cy="174.8" r="7.5" fill="#8a2e54"/><circle cx="324.0" cy="204.6" r="7.5" fill="#763966"/><circle cx="271.4" cy="182.8" r="7.5" fill="#5f477a"/><circle cx="351.8" cy="416.8" r="7.5" fill="#7e355f"/><circle cx="289.9" cy="420.1" r="7.5" fill="#684172"/><circle cx="211.2" cy="359.6" r="7.5" fill="#564c82"/><circle cx="269.4" cy="181.4" r="7.5" fill="#5f477b"/><circle cx="351.3" cy="420.6" r="7.5" fill="#7e355f"/><circle cx="325.5" cy="205.9" r="7.5" fill="#763966"/><circle cx="381.0" cy="177.3" r="7.5" fill="#8a2e54"/><circle cx="215.0" cy="358.1" r="7.5" fill="#564b82"/><circle cx="270.4" cy="184.6" r="7.5" fill="#5f477b"/><circle cx="289.9" cy="418.7" r="7.5" fill="#684172"/><circle cx="349.6" cy="422.1" r="7.5" fill="#7e355e"/><circle cx="325.9" cy="205.8" r="7.5" fill="#763966"/><circle cx="269.4" cy="184.6" r="7.5" fill="#5e477b"/><circle cx="214.5" cy="355.8" r="7.5" fill="#564b82"/><circle cx="381.6" cy="176.5" r="7.5" fill="#892e54"/><circle cx="289.5" cy="421.9" r="7.5" fill="#684172"/><circle cx="269.1" cy="181.5" r="7.5" fill="#5e477b"/><circle cx="355.2" cy="425.8" r="7.5" fill="#7e355e"/><circle cx="212.8" cy="351.0" r="7.5" fill="#574b82"/><circle cx="324.2" cy="202.8" r="7.5" fill="#763966"/><circle cx="381.5" cy="179.7" r="7.5" fill="#892e54"/><circle cx="265.1" cy="183.0" r="7.5" fill="#5e477b"/><circle cx="289.7" cy="424.1" r="7.5" fill="#684172"/><circle cx="213.8" cy="346.2" r="7.5" fill="#574b82"/><circle cx="354.8" cy="428.3" r="7.5" fill="#7e345e"/><circle cx="262.5" cy="182.3" r="7.5" fill="#5e477b"/><circle cx="325.4" cy="199.4" r="7.5" fill="#763a66"/><circle cx="212.8" cy="346.8" r="7.5" fill="#574b82"/><circle cx="383.9" cy="180.2" r="7.5" fill="#892e55"/><circle cx="290.9" cy="426.4" r="7.5" fill="#684172"/><circle cx="353.6" cy="426.7" r="7.5" fill="#7f345e"/><circle cx="263.4" cy="181.4" r="7.5" fill="#5e477b"/><circle cx="211.6" cy="342.1" r="7.5" fill="#574b81"/><circle cx="324.1" cy="199.5" r="7.5" fill="#753a66"/><circle cx="262.0" cy="181.2" r="7.5" fill="#5e477b"/><circle cx="383.3" cy="183.4" r="7.5" fill="#892e55"/><circle cx="356.7" cy="425.8" r="7.5" fill="#7f345e"/><circle cx="290.4" cy="424.8" r="7.5" fill="#684172"/><circle cx="211.8" cy="341.2" r="7.5" fill="#574b81"/><circle cx="260.2" cy="177.9" r="7.5" fill="#5e477b"/><circle cx="325.3" cy="198.3" r="7.5" fill="#753a66"/><circle cx="211.8" cy="331.8" r="7.5" fill="#574b81"/><circle cx="385.6" cy="182.0" r="7.5" fill="#892e55"/><circle cx="358.0" cy="424.7" r="7.5" fill="#7f345e"/><circle cx="260.5" cy="180.2" r="7.5" fill="#5e477c"/><circle cx="289.6" cy="424.0" r="7.5" fill="#684172"/><circle cx="213.5" cy="329.3" r="7.5" fill="#574b81"/><circle cx="256.1" cy="179.4" r="7.5" fill="#5d477c"/><circle cx="324.4" cy="198.2" r="7.5" fill="#753a66"/><circle cx="360.6" cy="427.9" r="7.5" fill="#7f345e"/><circle cx="385.0" cy="187.8" r="7.5" fill="#892f55"/><circle cx="212.7" cy="328.3" r="7.5" fill="#574b81"/><circle cx="290.0" cy="428.4" r="7.5" fill="#694172"/><circle cx="256.5" cy="182.8" r="7.5" fill="#5d477c"/><circle cx="211.9" cy="323.4" r="7.5" fill="#584b81"/><circle cx="255.4" cy="182.2" r="7.5" fill="#5d487c"/><circle cx="361.8" cy="424.1" r="7.5" fill="#7f345e"/><circle cx="322.6" cy="196.1" r="7.5" fill="#753a67"/><circle cx="387.1" cy="188.9" r="7.5" fill="#892f55"/><circle cx="212.7" cy="317.0" r="7.5" fill="#584b81"/><circle cx="290.1" cy="426.7" r="7.5" fill="#694172"/><circle cx="253.4" cy="184.3" r="7.5" fill="#5d487c"/><circle cx="362.7" cy="423.8" r="7.5" fill="#7f345d"/><circle cx="213.8" cy="317.1" r="7.5" fill="#584b81"/><circle cx="254.2" cy="185.2" r="7.5" fill="#5d487c"/><circle cx="324.6" cy="190.0" r="7.5" fill="#753a67"/><circle cx="386.6" cy="190.5" r="7.5" fill="#882f55"/><circle cx="214.3" cy="310.0" r="7.5" fill="#584b81"/><circle cx="290.0" cy="431.1" r="7.5" fill="#694171"/><circle cx="251.1" cy="186.6" r="7.5" fill="#5d487c"/><circle cx="363.0" cy="427.9" r="7.5" fill="#7f345d"/><circle cx="213.3" cy="307.3" r="7.5" fill="#584a80"/><circle cx="251.5" cy="186.4" r="7.5" fill="#5d487c"/><circle cx="389.9" cy="193.2" r="7.5" fill="#882f55"/><circle cx="324.8" cy="192.5" r="7.5" fill="#753a67"/><circle cx="213.5" cy="299.8" r="7.5" fill="#584a80"/><circle cx="249.8" cy="188.4" r="7.5" fill="#5d487c"/><circle cx="289.9" cy="424.6" r="7.5" fill="#694171"/><circle cx="364.0" cy="421.4" r="7.5" fill="#80345d"/><circle cx="214.1" cy="299.2" r="7.5" fill="#584a80"/><circle cx="249.5" cy="192.4" r="7.5" fill="#5c487d"/><circle cx="391.0" cy="193.5" r="7.5" fill="#882f56"/><circle cx="214.0" cy="295.1" r="7.5" fill="#584a80"/><circle cx="246.5" cy="195.4" r="7.5" fill="#5c487d"/><circle cx="322.6" cy="189.1" r="7.5" fill="#753a67"/><circle cx="365.1" cy="423.3" r="7.5" fill="#80345d"/><circle cx="288.5" cy="425.5" r="7.5" fill="#694171"/><circle cx="216.7" cy="287.3" r="7.5" fill="#594a80"/><circle cx="245.3" cy="197.1" r="7.5" fill="#5c487d"/><circle cx="215.2" cy="287.7" r="7.5" fill="#594a80"/><circle cx="391.3" cy="197.5" r="7.5" fill="#882f56"/><circle cx="243.3" cy="198.2" r="7.5" fill="#5c487d"/><circle cx="368.7" cy="425.3" r="7.5" fill="#80345d"/><circle cx="217.7" cy="282.3" r="7.5" fill="#594a80"/><circle cx="240.4" cy="199.4" r="7.5" fill="#5c487d"/><circle cx="322.6" cy="191.9" r="7.5" fill="#743a67"/><circle cx="215.2" cy="276.8" r="7.5" fill="#594a80"/><circle cx="291.1" cy="427.3" r="7.5" fill="#694171"/><circle cx="241.9" cy="201.7" r="7.5" fill="#5c487d"/><circle cx="390.5" cy="198.8" r="7.5" fill="#882f56"/><circle cx="217.6" cy="274.6" r="7.5" fill="#594a80"/><circle cx="238.1" cy="204.1" r="7.5" fill="#5c487d"/><circle cx="368.4" cy="419.4" r="7.5" fill="#80345d"/><circle cx="217.9" cy="268.5" r="7.5" fill="#594a7f"/><circle cx="237.5" cy="204.2" r="7.5" fill="#5c487d"/><circle cx="238.1" cy="208.8" r="7.5" fill="#5b497d"/><circle cx="218.6" cy="265.1" r="7.5" fill="#594a7f"/><circle cx="323.7" cy="187.3" r="7.5" fill="#743a67"/><circle cx="236.8" cy="215.0" r="7.5" fill="#5b497e"/><circle cx="219.7" cy="264.9" r="7.5" fill="#594a7f"/><circle cx="288.1" cy="432.5" r="7.5" fill="#694171"/><circle cx="393.4" cy="208.0" r="7.5" fill="#882f56"/><circle cx="234.0" cy="212.4" r="7.5" fill="#5b497e"/><circle cx="220.7" cy="255.6" r="7.5" fill="#5a4a7f"/><circle cx="369.9" cy="419.9" r="7.5" fill="#80335d"/><circle cx="234.5" cy="217.2" r="7.5" fill="#5b497e"/><circle cx="220.8" cy="256.9" r="7.5" fill="#5a4a7f"/><circle cx="231.4" cy="217.9" r="7.5" fill="#5b497e"/><circle cx="222.0" cy="249.6" r="7.5" fill="#5a497f"/><circle cx="232.1" cy="222.4" r="7.5" fill="#5b497e"/><circle cx="222.9" cy="246.9" r="7.5" fill="#5a497f"/><circle cx="230.3" cy="225.3" r="7.5" fill="#5b497e"/><circle cx="224.3" cy="241.5" r="7.5" fill="#5a497f"/><circle cx="228.6" cy="231.1" r="7.5" fill="#5b497e"/><circle cx="225.4" cy="239.4" r="7.5" fill="#5a497f"/><circle cx="226.6" cy="233.4" r="7.5" fill="#5a497e"/><circle cx="227.3" cy="235.3" r="7.5" fill="#5a497e"/><circle cx="324.2" cy="191.4" r="7.5" fill="#743a67"/><circle cx="392.7" cy="205.5" r="7.5" fill="#872f56"/><circle cx="371.1" cy="416.6" r="7.5" fill="#80335d"/><circle cx="289.8" cy="430.2" r="7.5" fill="#6a4071"/><circle cx="393.3" cy="211.0" r="7.5" fill="#872f56"/><circle cx="372.1" cy="414.6" r="7.5" fill="#80335c"/><circle cx="323.3" cy="190.9" r="7.5" fill="#743a67"/><circle cx="289.7" cy="427.3" r="7.5" fill="#6a4071"/><circle cx="372.3" cy="412.3" r="7.5" fill="#81335c"/><circle cx="393.3" cy="216.6" r="7.5" fill="#872f56"/><circle cx="320.9" cy="191.6" r="7.5" fill="#743a68"/><circle cx="286.9" cy="431.9" r="7.5" fill="#6a4071"/><circle cx="374.2" cy="410.4" r="7.5" fill="#81335c"/><circle cx="394.8" cy="220.5" r="7.5" fill="#873057"/><circle cx="377.0" cy="407.9" r="7.5" fill="#81335c"/><circle cx="322.4" cy="189.7" r="7.5" fill="#743b68"/><circle cx="395.6" cy="223.9" r="7.5" fill="#873057"/><circle cx="287.5" cy="425.3" r="7.5" fill="#6a4071"/><circle cx="378.3" cy="404.9" r="7.5" fill="#81335c"/><circle cx="396.3" cy="230.3" r="7.5" fill="#873057"/><circle cx="320.7" cy="191.3" r="7.5" fill="#743b68"/><circle cx="288.3" cy="424.9" r="7.5" fill="#6a4070"/><circle cx="378.8" cy="404.4" r="7.5" fill="#81335c"/><circle cx="397.3" cy="236.3" r="7.5" fill="#873057"/><circle cx="380.2" cy="398.7" r="7.5" fill="#81335c"/><circle cx="396.7" cy="238.1" r="7.5" fill="#863057"/><circle cx="321.9" cy="193.9" r="7.5" fill="#743b68"/><circle cx="288.1" cy="421.8" r="7.5" fill="#6a4070"/><circle cx="380.7" cy="394.8" r="7.5" fill="#82335b"/><circle cx="398.4" cy="247.5" r="7.5" fill="#863057"/><circle cx="382.4" cy="392.6" r="7.5" fill="#82335b"/><circle cx="321.1" cy="193.5" r="7.5" fill="#733b68"/><circle cx="288.7" cy="422.1" r="7.5" fill="#6a4070"/><circle cx="395.4" cy="249.2" r="7.5" fill="#863057"/><circle cx="382.4" cy="392.3" r="7.5" fill="#82335b"/><circle cx="396.9" cy="252.8" r="7.5" fill="#863058"/><circle cx="385.1" cy="384.5" r="7.5" fill="#82325b"/><circle cx="320.9" cy="194.9" r="7.5" fill="#733b68"/><circle cx="288.5" cy="425.4" r="7.5" fill="#6a4070"/><circle cx="398.3" cy="260.4" r="7.5" fill="#863058"/><circle cx="385.5" cy="384.9" r="7.5" fill="#82325b"/><circle cx="398.9" cy="265.4" r="7.5" fill="#863058"/><circle cx="385.9" cy="378.0" r="7.5" fill="#82325b"/><circle cx="319.3" cy="197.7" r="7.5" fill="#733b68"/><circle cx="397.8" cy="267.9" r="7.5" fill="#853058"/><circle cx="289.7" cy="422.3" r="7.5" fill="#6b4070"/><circle cx="387.4" cy="373.4" r="7.5" fill="#82325b"/><circle cx="398.8" cy="275.7" r="7.5" fill="#853158"/><circle cx="386.9" cy="371.6" r="7.5" fill="#83325b"/><circle cx="398.2" cy="279.2" r="7.5" fill="#853158"/><circle cx="388.4" cy="362.9" r="7.5" fill="#83325a"/><circle cx="320.4" cy="195.8" r="7.5" fill="#733b68"/><circle cx="287.8" cy="417.0" r="7.5" fill="#6b4070"/><circle cx="397.3" cy="283.9" r="7.5" fill="#853158"/><circle cx="389.3" cy="359.6" r="7.5" fill="#83325a"/><circle cx="397.4" cy="289.7" r="7.5" fill="#853159"/><circle cx="390.1" cy="354.2" r="7.5" fill="#83325a"/><circle cx="397.7" cy="298.3" r="7.5" fill="#853159"/><circle cx="391.5" cy="345.9" r="7.5" fill="#83325a"/><circle cx="395.8" cy="299.2" r="7.5" fill="#853159"/><circle cx="390.3" cy="343.7" r="7.5" fill="#83325a"/><circle cx="394.8" cy="308.3" r="7.5" fill="#843159"/><circle cx="394.1" cy="339.2" r="7.5" fill="#83325a"/><circle cx="289.8" cy="415.4" r="7.5" fill="#6b4070"/><circle cx="320.7" cy="195.9" r="7.5" fill="#733b69"/><circle cx="395.5" cy="311.5" r="7.5" fill="#843159"/><circle cx="394.7" cy="336.8" r="7.5" fill="#84315a"/><circle cx="394.6" cy="319.6" r="7.5" fill="#843159"/><circle cx="394.7" cy="329.9" r="7.5" fill="#843159"/><circle cx="396.6" cy="322.6" r="7.5" fill="#843159"/><circle cx="289.5" cy="414.9" r="7.5" fill="#6b4070"/><circle cx="319.6" cy="198.7" r="7.5" fill="#733b69"/><circle cx="289.5" cy="412.4" r="7.5" fill="#6b406f"/><circle cx="320.1" cy="203.1" r="7.5" fill="#733b69"/><circle cx="292.1" cy="411.5" r="7.5" fill="#6b3f6f"/><circle cx="319.2" cy="206.0" r="7.5" fill="#723b69"/><circle cx="290.5" cy="407.9" r="7.5" fill="#6b3f6f"/><circle cx="318.5" cy="208.1" r="7.5" fill="#723b69"/><circle cx="290.6" cy="404.5" r="7.5" fill="#6c3f6f"/><circle cx="316.4" cy="211.3" r="7.5" fill="#723b69"/><circle cx="294.0" cy="400.6" r="7.5" fill="#6c3f6f"/><circle cx="315.4" cy="213.0" r="7.5" fill="#723c69"/><circle cx="290.8" cy="398.3" r="7.5" fill="#6c3f6f"/><circle cx="318.0" cy="216.7" r="7.5" fill="#723c69"/><circle cx="292.5" cy="398.0" r="7.5" fill="#6c3f6f"/><circle cx="315.7" cy="221.2" r="7.5" fill="#723c6a"/><circle cx="292.6" cy="392.0" r="7.5" fill="#6c3f6f"/><circle cx="315.1" cy="220.7" r="7.5" fill="#723c6a"/><circle cx="293.3" cy="387.5" r="7.5" fill="#6c3f6f"/><circle cx="314.9" cy="223.7" r="7.5" fill="#713c6a"/><circle cx="292.7" cy="388.6" r="7.5" fill="#6c3f6e"/><circle cx="315.3" cy="230.7" r="7.5" fill="#713c6a"/><circle cx="291.4" cy="381.4" r="7.5" fill="#6c3f6e"/><circle cx="312.2" cy="235.7" r="7.5" fill="#713c6a"/><circle cx="292.8" cy="378.8" r="7.5" fill="#6d3f6e"/><circle cx="313.6" cy="237.5" r="7.5" fill="#713c6a"/><circle cx="293.2" cy="376.7" r="7.5" fill="#6d3f6e"/><circle cx="312.9" cy="238.6" r="7.5" fill="#713c6a"/><circle cx="293.3" cy="372.0" r="7.5" fill="#6d3f6e"/><circle cx="312.9" cy="241.5" r="7.5" fill="#713c6a"/><circle cx="296.2" cy="366.3" r="7.5" fill="#6d3e6e"/><circle cx="313.0" cy="247.5" r="7.5" fill="#713c6a"/><circle cx="295.5" cy="367.3" r="7.5" fill="#6d3e6e"/><circle cx="309.2" cy="251.0" r="7.5" fill="#713c6b"/><circle cx="297.3" cy="361.0" r="7.5" fill="#6d3e6e"/><circle cx="310.8" cy="253.3" r="7.5" fill="#703c6b"/><circle cx="298.1" cy="354.4" r="7.5" fill="#6d3e6d"/><circle cx="309.1" cy="259.1" r="7.5" fill="#703d6b"/><circle cx="297.5" cy="352.0" r="7.5" fill="#6d3e6d"/><circle cx="308.9" cy="261.3" r="7.5" fill="#703d6b"/><circle cx="297.1" cy="346.7" r="7.5" fill="#6e3e6d"/><circle cx="311.0" cy="264.9" r="7.5" fill="#703d6b"/><circle cx="298.9" cy="341.8" r="7.5" fill="#6e3e6d"/><circle cx="308.8" cy="274.0" r="7.5" fill="#703d6b"/><circle cx="299.9" cy="338.8" r="7.5" fill="#6e3e6d"/><circle cx="308.3" cy="275.5" r="7.5" fill="#703d6b"/><circle cx="299.8" cy="333.6" r="7.5" fill="#6e3e6d"/><circle cx="304.8" cy="276.9" r="7.5" fill="#703d6b"/><circle cx="298.7" cy="327.5" r="7.5" fill="#6e3e6d"/><circle cx="305.3" cy="285.1" r="7.5" fill="#6f3d6c"/><circle cx="300.2" cy="326.7" r="7.5" fill="#6e3e6d"/><circle cx="305.6" cy="285.6" r="7.5" fill="#6f3d6c"/><circle cx="301.0" cy="320.0" r="7.5" fill="#6e3e6d"/><circle cx="305.2" cy="295.5" r="7.5" fill="#6f3d6c"/><circle cx="301.8" cy="313.0" r="7.5" fill="#6f3e6c"/><circle cx="302.6" cy="297.1" r="7.5" fill="#6f3d6c"/><circle cx="303.0" cy="312.0" r="7.5" fill="#6f3d6c"/><circle cx="302.9" cy="304.5" r="7.5" fill="#6f3d6c"/><circle cx="302.6" cy="305.6" r="7.5" fill="#6f3d6c"/></g>
<text transform="translate(126.60 372.00) scale(0.96 1)" font-size="23.4" text-anchor="end" fill="#262626" >-1</text>
<text transform="translate(126.60 313.23) scale(0.96 1)" font-size="23.4" text-anchor="end" fill="#262626" >-0.5</text>
<text transform="translate(126.60 254.46) scale(0.96 1)" font-size="23.4" text-anchor="end" fill="#262626" >0</text>
<text transform="translate(126.60 195.69) scale(0.96 1)" font-size="23.4" text-anchor="end" fill="#262626" >0.5</text>
<text transform="translate(126.60 136.92) scale(0.96 1)" font-size="23.4" text-anchor="end" fill="#262626" >1</text>
<text transform="translate(334.15 499.47) scale(0.96 1)" font-size="23.4" text-anchor="start" fill="#262626" >-2</text>
<text transform="translate(403.15 470.84) scale(0.96 1)" font-size="23.4" text-anchor="start" fill="#262626" >0</text>
<text transform="translate(472.16 442.21) scale(0.96 1)" font-size="23.4" text-anchor="start" fill="#262626" >2</text>
<text transform="translate(257.89 493.79) scale(0.96 1)" font-size="23.4" text-anchor="end" fill="#262626" >-2</text>
<text transform="translate(205.55 456.45) scale(0.96 1)" font-size="23.4" text-anchor="end" fill="#262626" >0</text>
<text transform="translate(153.20 419.10) scale(0.96 1)" font-size="23.4" text-anchor="end" fill="#262626" >2</text>
<g stroke="#262626" stroke-width="2.70" fill="none" stroke-linecap="square">
<rect x="615.50" y="39.50" width="365.10" height="445.00"/>
<line x1="798.05" y1="484.50" x2="798.05" y2="479.00" stroke-linecap="butt"/>
<line x1="798.05" y1="39.50" x2="798.05" y2="45.00" stroke-linecap="butt"/>
<line x1="615.50" y1="262.50" x2="621.00" y2="262.50" stroke-linecap="butt"/>
<line x1="980.60" y1="262.50" x2="975.10" y2="262.50" stroke-linecap="butt"/>
</g>
<text transform="translate(605.90 48.90) scale(0.96 1)" font-size="23.4" text-anchor="end" fill="#262626" >0.5</text>
<text transform="translate(605.90 271.90) scale(0.96 1)" font-size="23.4" text-anchor="end" fill="#262626" >0</text>
<text transform="translate(605.90 493.90) scale(0.96 1)" font-size="23.4" text-anchor="end" fill="#262626" >-0.5</text>
<text transform="translate(615.20 517.40) scale(0.96 1)" font-size="23.4" text-anchor="middle" fill="#262626" >-0.5</text>
<text transform="translate(797.75 517.40) scale(0.96 1)" font-size="23.4" text-anchor="middle" fill="#262626" >0</text>
<text transform="translate(980.30 517.40) scale(0.96 1)" font-size="23.4" text-anchor="middle" fill="#262626" >0.5</text>
<g><circle cx="785.9" cy="262.9" r="7.5" fill="#017dce"/><circle cx="785.2" cy="263.2" r="7.5" fill="#017dce"/><circle cx="785.0" cy="264.0" r="7.5" fill="#017dce"/><circle cx="781.0" cy="264.1" r="7.5" fill="#017cce"/><circle cx="781.0" cy="264.5" r="7.5" fill="#017cce"/><circle cx="777.9" cy="264.6" r="7.5" fill="#017cce"/><circle cx="772.9" cy="265.0" r="7.5" fill="#017cce"/><circle cx="768.8" cy="262.9" r="7.5" fill="#027cce"/><circle cx="766.6" cy="265.3" r="7.5" fill="#027ccd"/><circle cx="765.1" cy="262.6" r="7.5" fill="#027ccd"/><circle cx="758.8" cy="263.8" r="7.5" fill="#027ccd"/><circle cx="756.2" cy="264.0" r="7.5" fill="#027ccd"/><circle cx="753.4" cy="264.1" r="7.5" fill="#037bcd"/><circle cx="748.3" cy="263.7" r="7.5" fill="#037bcc"/><circle cx="744.2" cy="262.5" r="7.5" fill="#037bcc"/><circle cx="741.9" cy="265.3" r="7.5" fill="#037bcc"/><circle cx="736.8" cy="261.8" r="7.5" fill="#047bcc"/><circle cx="734.0" cy="263.7" r="7.5" fill="#047bcc"/><circle cx="729.2" cy="263.0" r="7.5" fill="#047bcb"/><circle cx="726.0" cy="264.1" r="7.5" fill="#047bcb"/><circle cx="720.8" cy="261.6" r="7.5" fill="#047acb"/><circle cx="717.4" cy="263.6" r="7.5" fill="#057acb"/><circle cx="714.5" cy="261.1" r="7.5" fill="#057acb"/><circle cx="710.0" cy="260.5" r="7.5" fill="#057aca"/><circle cx="703.7" cy="262.0" r="7.5" fill="#057aca"/><circle cx="698.3" cy="262.3" r="7.5" fill="#067aca"/><circle cx="695.5" cy="260.9" r="7.5" fill="#067aca"/><circle cx="692.5" cy="260.3" r="7.5" fill="#0679c9"/><circle cx="687.2" cy="258.2" r="7.5" fill="#0779c9"/><circle cx="682.9" cy="257.0" r="7.5" fill="#0779c9"/><circle cx="679.6" cy="255.6" r="7.5" fill="#0779c9"/><circle cx="675.6" cy="253.0" r="7.5" fill="#0779c8"/><circle cx="671.9" cy="253.7" r="7.5" fill="#0879c8"/><circle cx="666.0" cy="253.0" r="7.5" fill="#0879c8"/><circle cx="664.0" cy="252.8" r="7.5" fill="#0878c8"/><circle cx="658.3" cy="251.7" r="7.5" fill="#0878c8"/><circle cx="655.6" cy="251.4" r="7.5" fill="#0878c7"/><circle cx="650.5" cy="251.4" r="7.5" fill="#0978c7"/><circle cx="645.4" cy="247.6" r="7.5" fill="#0978c7"/><circle cx="644.3" cy="249.0" r="7.5" fill="#0978c7"/><circle cx="637.7" cy="248.4" r="7.5" fill="#0978c7"/><circle cx="634.9" cy="246.8" r="7.5" fill="#0a77c6"/><circle cx="629.3" cy="245.4" r="7.5" fill="#0a77c6"/><circle cx="625.4" cy="244.9" r="7.5" fill="#0a77c6"/><circle cx="623.3" cy="243.0" r="7.5" fill="#0a77c6"/><circle cx="619.7" cy="241.4" r="7.5" fill="#0b77c6"/><circle cx="622.0" cy="236.0" r="7.5" fill="#0b77c6"/><circle cx="630.0" cy="237.5" r="7.5" fill="#0b77c6"/><circle cx="637.0" cy="239.0" r="7.5" fill="#0b77c6"/><circle cx="617.4" cy="236.8" r="7.5" fill="#0b77c5"/><circle cx="619.0" cy="235.5" r="7.5" fill="#0b77c5"/><circle cx="618.8" cy="231.2" r="7.5" fill="#0b77c5"/><circle cx="622.5" cy="228.4" r="7.5" fill="#0b76c5"/><circle cx="627.2" cy="225.9" r="7.5" fill="#0c76c5"/><circle cx="631.3" cy="227.1" r="7.5" fill="#0c76c4"/><circle cx="637.3" cy="226.6" r="7.5" fill="#0c76c4"/><circle cx="641.9" cy="228.0" r="7.5" fill="#0d76c4"/><circle cx="646.6" cy="226.0" r="7.5" fill="#0d76c4"/><circle cx="648.8" cy="228.0" r="7.5" fill="#0d75c3"/><circle cx="653.0" cy="227.1" r="7.5" fill="#0d75c3"/><circle cx="658.0" cy="228.1" r="7.5" fill="#0e75c3"/><circle cx="663.4" cy="228.6" r="7.5" fill="#0e75c3"/><circle cx="667.8" cy="231.0" r="7.5" fill="#0e75c2"/><circle cx="671.1" cy="231.6" r="7.5" fill="#0e75c2"/><circle cx="678.5" cy="232.8" r="7.5" fill="#0f75c2"/><circle cx="682.9" cy="232.3" r="7.5" fill="#0f74c2"/><circle cx="686.7" cy="234.6" r="7.5" fill="#0f74c1"/><circle cx="692.5" cy="234.2" r="7.5" fill="#1074c1"/><circle cx="697.0" cy="234.0" r="7.5" fill="#1074c1"/><circle cx="701.4" cy="235.8" r="7.5" fill="#1074c1"/><circle cx="707.5" cy="235.8" r="7.5" fill="#1074c0"/><circle cx="708.1" cy="237.4" r="7.5" fill="#1173c0"/><circle cx="714.5" cy="238.4" r="7.5" fill="#1173c0"/><circle cx="719.2" cy="238.1" r="7.5" fill="#1173c0"/><circle cx="721.6" cy="237.8" r="7.5" fill="#1173c0"/><circle cx="726.7" cy="239.0" r="7.5" fill="#1273bf"/><circle cx="731.1" cy="242.5" r="7.5" fill="#1273bf"/><circle cx="734.0" cy="242.0" r="7.5" fill="#1273bf"/><circle cx="739.2" cy="244.4" r="7.5" fill="#1273bf"/><circle cx="741.8" cy="243.8" r="7.5" fill="#1272bf"/><circle cx="745.7" cy="242.8" r="7.5" fill="#1372be"/><circle cx="745.3" cy="247.7" r="7.5" fill="#1372be"/><circle cx="749.1" cy="245.0" r="7.5" fill="#1372be"/><circle cx="753.4" cy="247.5" r="7.5" fill="#1372be"/><circle cx="755.6" cy="249.3" r="7.5" fill="#1372be"/><circle cx="761.2" cy="250.0" r="7.5" fill="#1472bd"/><circle cx="762.4" cy="249.7" r="7.5" fill="#1472bd"/><circle cx="767.1" cy="250.5" r="7.5" fill="#1472bd"/><circle cx="770.3" cy="250.0" r="7.5" fill="#1471bd"/><circle cx="772.9" cy="252.7" r="7.5" fill="#1471bd"/><circle cx="775.6" cy="253.3" r="7.5" fill="#1471bd"/><circle cx="775.4" cy="252.9" r="7.5" fill="#1571bd"/><circle cx="774.9" cy="255.9" r="7.5" fill="#1571bd"/><circle cx="777.4" cy="254.7" r="7.5" fill="#1571bc"/><circle cx="779.4" cy="256.5" r="7.5" fill="#1571bc"/><circle cx="780.5" cy="257.9" r="7.5" fill="#1571bc"/><circle cx="783.0" cy="255.8" r="7.5" fill="#1571bc"/><circle cx="782.7" cy="259.0" r="7.5" fill="#1571bc"/><circle cx="783.6" cy="256.8" r="7.5" fill="#1571bc"/><circle cx="784.6" cy="258.2" r="7.5" fill="#1571bc"/><circle cx="787.4" cy="257.1" r="7.5" fill="#1571bc"/><circle cx="790.3" cy="251.8" r="7.5" fill="#1770bb"/><circle cx="789.1" cy="250.7" r="7.5" fill="#1770bb"/><circle cx="788.1" cy="251.4" r="7.5" fill="#1770bb"/><circle cx="789.1" cy="250.2" r="7.5" fill="#1770bb"/><circle cx="786.2" cy="250.0" r="7.5" fill="#1770bb"/><circle cx="784.5" cy="249.7" r="7.5" fill="#1770ba"/><circle cx="784.6" cy="247.6" r="7.5" fill="#1770ba"/><circle cx="783.4" cy="245.8" r="7.5" fill="#1770ba"/><circle cx="782.3" cy="243.8" r="7.5" fill="#1770ba"/><circle cx="781.9" cy="244.5" r="7.5" fill="#1770ba"/><circle cx="779.0" cy="242.4" r="7.5" fill="#1770ba"/><circle cx="781.3" cy="240.9" r="7.5" fill="#1770ba"/><circle cx="780.5" cy="241.1" r="7.5" fill="#186fba"/><circle cx="776.7" cy="238.2" r="7.5" fill="#186fba"/><circle cx="778.9" cy="239.4" r="7.5" fill="#186fba"/><circle cx="776.8" cy="237.0" r="7.5" fill="#186fba"/><circle cx="773.3" cy="235.6" r="7.5" fill="#186fba"/><circle cx="772.4" cy="234.3" r="7.5" fill="#186fba"/><circle cx="773.4" cy="233.5" r="7.5" fill="#186fba"/><circle cx="771.6" cy="230.9" r="7.5" fill="#186fb9"/><circle cx="770.7" cy="228.9" r="7.5" fill="#186fb9"/><circle cx="766.7" cy="225.8" r="7.5" fill="#186fb9"/><circle cx="767.9" cy="226.1" r="7.5" fill="#196fb9"/><circle cx="765.1" cy="221.8" r="7.5" fill="#196fb9"/><circle cx="761.5" cy="219.8" r="7.5" fill="#196fb9"/><circle cx="762.3" cy="217.4" r="7.5" fill="#196fb9"/><circle cx="758.5" cy="215.9" r="7.5" fill="#196fb8"/><circle cx="756.7" cy="211.8" r="7.5" fill="#196eb8"/><circle cx="756.6" cy="209.1" r="7.5" fill="#1a6eb8"/><circle cx="751.4" cy="204.0" r="7.5" fill="#1a6eb8"/><circle cx="751.4" cy="204.7" r="7.5" fill="#1a6eb8"/><circle cx="748.4" cy="200.0" r="7.5" fill="#1a6eb8"/><circle cx="745.3" cy="196.7" r="7.5" fill="#1a6eb7"/><circle cx="742.5" cy="195.3" r="7.5" fill="#1b6eb7"/><circle cx="740.0" cy="190.0" r="7.5" fill="#1b6eb7"/><circle cx="737.1" cy="187.7" r="7.5" fill="#1b6db7"/><circle cx="735.9" cy="184.3" r="7.5" fill="#1b6db7"/><circle cx="735.0" cy="180.0" r="7.5" fill="#1b6db7"/><circle cx="732.7" cy="177.8" r="7.5" fill="#1c6db6"/><circle cx="728.7" cy="171.4" r="7.5" fill="#1c6db6"/><circle cx="725.9" cy="168.4" r="7.5" fill="#1c6db6"/><circle cx="723.6" cy="163.0" r="7.5" fill="#1c6db6"/><circle cx="723.9" cy="160.1" r="7.5" fill="#1d6db5"/><circle cx="721.0" cy="156.0" r="7.5" fill="#1d6cb5"/><circle cx="716.2" cy="153.3" r="7.5" fill="#1d6cb5"/><circle cx="714.7" cy="147.9" r="7.5" fill="#1d6cb5"/><circle cx="712.6" cy="146.8" r="7.5" fill="#1e6cb5"/><circle cx="710.5" cy="143.3" r="7.5" fill="#1e6cb4"/><circle cx="708.4" cy="139.3" r="7.5" fill="#1e6cb4"/><circle cx="707.6" cy="136.8" r="7.5" fill="#1e6cb4"/><circle cx="703.7" cy="132.0" r="7.5" fill="#1e6cb4"/><circle cx="705.1" cy="128.8" r="7.5" fill="#1f6bb4"/><circle cx="700.9" cy="127.6" r="7.5" fill="#1f6bb4"/><circle cx="699.4" cy="124.0" r="7.5" fill="#1f6bb3"/><circle cx="696.4" cy="117.3" r="7.5" fill="#1f6bb3"/><circle cx="694.2" cy="115.1" r="7.5" fill="#1f6bb3"/><circle cx="694.2" cy="111.0" r="7.5" fill="#206bb3"/><circle cx="693.4" cy="108.3" r="7.5" fill="#206bb3"/><circle cx="690.0" cy="105.9" r="7.5" fill="#206bb2"/><circle cx="687.6" cy="103.8" r="7.5" fill="#206bb2"/><circle cx="687.8" cy="98.9" r="7.5" fill="#206ab2"/><circle cx="687.5" cy="95.0" r="7.5" fill="#216ab2"/><circle cx="696.7" cy="96.7" r="7.5" fill="#216ab2"/><circle cx="698.4" cy="101.7" r="7.5" fill="#216ab2"/><circle cx="691.4" cy="90.2" r="7.5" fill="#216ab2"/><circle cx="693.0" cy="88.0" r="7.5" fill="#216ab2"/><circle cx="695.2" cy="88.1" r="7.5" fill="#216ab1"/><circle cx="700.9" cy="88.4" r="7.5" fill="#216ab1"/><circle cx="705.5" cy="91.5" r="7.5" fill="#226ab1"/><circle cx="707.6" cy="95.0" r="7.5" fill="#226ab1"/><circle cx="709.3" cy="100.0" r="7.5" fill="#2269b1"/><circle cx="713.5" cy="101.3" r="7.5" fill="#2269b0"/><circle cx="716.4" cy="103.8" r="7.5" fill="#2369b0"/><circle cx="716.7" cy="107.6" r="7.5" fill="#2369b0"/><circle cx="718.8" cy="109.7" r="7.5" fill="#2369b0"/><circle cx="720.9" cy="115.7" r="7.5" fill="#2369b0"/><circle cx="721.8" cy="117.6" r="7.5" fill="#2369b0"/><circle cx="722.7" cy="119.0" r="7.5" fill="#2369af"/><circle cx="724.4" cy="124.0" r="7.5" fill="#2469af"/><circle cx="725.1" cy="127.6" r="7.5" fill="#2468af"/><circle cx="729.5" cy="128.2" r="7.5" fill="#2468af"/><circle cx="733.3" cy="131.1" r="7.5" fill="#2468af"/><circle cx="736.8" cy="134.3" r="7.5" fill="#2568ae"/><circle cx="740.2" cy="138.0" r="7.5" fill="#2568ae"/><circle cx="741.0" cy="141.7" r="7.5" fill="#2568ae"/><circle cx="743.5" cy="145.1" r="7.5" fill="#2568ae"/><circle cx="745.9" cy="150.4" r="7.5" fill="#2568ae"/><circle cx="746.2" cy="152.0" r="7.5" fill="#2667ad"/><circle cx="748.0" cy="155.0" r="7.5" fill="#2667ad"/><circle cx="748.8" cy="158.4" r="7.5" fill="#2667ad"/><circle cx="749.7" cy="161.3" r="7.5" fill="#2667ad"/><circle cx="755.3" cy="165.1" r="7.5" fill="#2667ad"/><circle cx="755.1" cy="168.4" r="7.5" fill="#2767ad"/><circle cx="757.1" cy="171.7" r="7.5" fill="#2767ac"/><circle cx="758.9" cy="177.0" r="7.5" fill="#2767ac"/><circle cx="762.6" cy="180.0" r="7.5" fill="#2766ac"/><circle cx="763.9" cy="182.9" r="7.5" fill="#2866ac"/><circle cx="768.5" cy="189.2" r="7.5" fill="#2866ac"/><circle cx="768.4" cy="191.7" r="7.5" fill="#2866ab"/><circle cx="771.0" cy="194.7" r="7.5" fill="#2866ab"/><circle cx="774.6" cy="201.5" r="7.5" fill="#2866ab"/><circle cx="775.1" cy="203.4" r="7.5" fill="#2966ab"/><circle cx="776.7" cy="206.8" r="7.5" fill="#2966ab"/><circle cx="779.2" cy="211.2" r="7.5" fill="#2965aa"/><circle cx="780.9" cy="212.6" r="7.5" fill="#2965aa"/><circle cx="781.8" cy="215.1" r="7.5" fill="#2965aa"/><circle cx="782.7" cy="216.9" r="7.5" fill="#2a65aa"/><circle cx="784.8" cy="220.4" r="7.5" fill="#2a65aa"/><circle cx="785.2" cy="221.3" r="7.5" fill="#2a65aa"/><circle cx="786.8" cy="225.1" r="7.5" fill="#2a65aa"/><circle cx="787.9" cy="227.0" r="7.5" fill="#2a65a9"/><circle cx="789.5" cy="231.5" r="7.5" fill="#2a65a9"/><circle cx="791.7" cy="234.4" r="7.5" fill="#2a65a9"/><circle cx="791.8" cy="235.1" r="7.5" fill="#2b65a9"/><circle cx="790.1" cy="238.4" r="7.5" fill="#2b65a9"/><circle cx="790.8" cy="238.6" r="7.5" fill="#2b65a9"/><circle cx="792.7" cy="240.2" r="7.5" fill="#2b64a9"/><circle cx="791.8" cy="241.7" r="7.5" fill="#2b64a9"/><circle cx="791.5" cy="243.9" r="7.5" fill="#2b64a9"/><circle cx="792.3" cy="245.8" r="7.5" fill="#2b64a9"/><circle cx="793.3" cy="245.0" r="7.5" fill="#2b64a9"/><circle cx="794.1" cy="247.4" r="7.5" fill="#2b64a9"/><circle cx="794.5" cy="247.8" r="7.5" fill="#2b64a8"/><circle cx="794.2" cy="249.5" r="7.5" fill="#2b64a8"/><circle cx="796.0" cy="247.8" r="7.5" fill="#2d63a7"/><circle cx="797.6" cy="248.7" r="7.5" fill="#2d63a7"/><circle cx="797.4" cy="245.1" r="7.5" fill="#2d63a7"/><circle cx="798.3" cy="242.4" r="7.5" fill="#2d63a7"/><circle cx="797.5" cy="241.7" r="7.5" fill="#2d63a7"/><circle cx="798.2" cy="239.0" r="7.5" fill="#2d63a7"/><circle cx="798.9" cy="240.6" r="7.5" fill="#2d63a7"/><circle cx="797.9" cy="238.3" r="7.5" fill="#2d63a7"/><circle cx="797.3" cy="236.1" r="7.5" fill="#2d63a7"/><circle cx="797.8" cy="233.3" r="7.5" fill="#2d63a7"/><circle cx="796.4" cy="232.9" r="7.5" fill="#2d63a6"/><circle cx="799.6" cy="231.6" r="7.5" fill="#2e63a6"/><circle cx="799.6" cy="229.8" r="7.5" fill="#2e63a6"/><circle cx="795.6" cy="229.0" r="7.5" fill="#2e63a6"/><circle cx="797.5" cy="229.9" r="7.5" fill="#2e63a6"/><circle cx="796.3" cy="226.9" r="7.5" fill="#2e63a6"/><circle cx="797.5" cy="225.0" r="7.5" fill="#2e63a6"/><circle cx="796.2" cy="222.0" r="7.5" fill="#2e63a6"/><circle cx="798.1" cy="217.0" r="7.5" fill="#2e62a6"/><circle cx="798.6" cy="215.6" r="7.5" fill="#2e62a6"/><circle cx="796.3" cy="213.0" r="7.5" fill="#2f62a5"/><circle cx="796.4" cy="209.1" r="7.5" fill="#2f62a5"/><circle cx="796.8" cy="204.0" r="7.5" fill="#2f62a5"/><circle cx="797.5" cy="201.8" r="7.5" fill="#2f62a5"/><circle cx="799.0" cy="200.1" r="7.5" fill="#2f62a5"/><circle cx="798.7" cy="195.1" r="7.5" fill="#2f62a5"/><circle cx="797.0" cy="192.6" r="7.5" fill="#3062a5"/><circle cx="797.5" cy="186.8" r="7.5" fill="#3062a4"/><circle cx="797.7" cy="182.4" r="7.5" fill="#3061a4"/><circle cx="796.6" cy="175.2" r="7.5" fill="#3061a4"/><circle cx="797.5" cy="171.8" r="7.5" fill="#3161a4"/><circle cx="798.5" cy="168.9" r="7.5" fill="#3161a4"/><circle cx="797.0" cy="163.5" r="7.5" fill="#3161a3"/><circle cx="798.7" cy="160.5" r="7.5" fill="#3161a3"/><circle cx="799.2" cy="156.7" r="7.5" fill="#3161a3"/><circle cx="797.9" cy="150.3" r="7.5" fill="#3161a3"/><circle cx="798.9" cy="148.1" r="7.5" fill="#3260a3"/><circle cx="800.0" cy="143.4" r="7.5" fill="#3260a2"/><circle cx="801.1" cy="138.3" r="7.5" fill="#3260a2"/><circle cx="802.6" cy="132.7" r="7.5" fill="#3260a2"/><circle cx="800.9" cy="130.0" r="7.5" fill="#3360a2"/><circle cx="800.3" cy="125.9" r="7.5" fill="#3360a2"/><circle cx="801.2" cy="122.2" r="7.5" fill="#3360a2"/><circle cx="801.3" cy="118.0" r="7.5" fill="#3360a1"/><circle cx="801.6" cy="112.1" r="7.5" fill="#335fa1"/><circle cx="804.2" cy="108.5" r="7.5" fill="#345fa1"/><circle cx="801.7" cy="105.7" r="7.5" fill="#345fa1"/><circle cx="802.0" cy="101.1" r="7.5" fill="#345fa1"/><circle cx="802.6" cy="97.6" r="7.5" fill="#345fa0"/><circle cx="804.9" cy="94.0" r="7.5" fill="#345fa0"/><circle cx="802.8" cy="90.0" r="7.5" fill="#355fa0"/><circle cx="805.9" cy="86.8" r="7.5" fill="#355fa0"/><circle cx="807.8" cy="84.6" r="7.5" fill="#355fa0"/><circle cx="809.2" cy="78.4" r="7.5" fill="#355e9f"/><circle cx="809.2" cy="72.7" r="7.5" fill="#355e9f"/><circle cx="808.4" cy="69.2" r="7.5" fill="#365e9f"/><circle cx="811.5" cy="66.0" r="7.5" fill="#365e9f"/><circle cx="811.0" cy="59.0" r="7.5" fill="#365e9f"/><circle cx="811.7" cy="55.9" r="7.5" fill="#365e9e"/><circle cx="820.0" cy="56.7" r="7.5" fill="#365e9e"/><circle cx="819.2" cy="65.0" r="7.5" fill="#365e9e"/><circle cx="813.8" cy="52.9" r="7.5" fill="#375e9e"/><circle cx="819.7" cy="49.5" r="7.5" fill="#375e9e"/><circle cx="823.4" cy="47.5" r="7.5" fill="#375d9e"/><circle cx="825.3" cy="50.2" r="7.5" fill="#375d9e"/><circle cx="824.2" cy="55.6" r="7.5" fill="#375d9e"/><circle cx="827.6" cy="56.7" r="7.5" fill="#385d9d"/><circle cx="825.9" cy="61.9" r="7.5" fill="#385d9d"/><circle cx="827.3" cy="62.5" r="7.5" fill="#385d9d"/><circle cx="828.4" cy="68.4" r="7.5" fill="#385d9d"/><circle cx="827.1" cy="73.7" r="7.5" fill="#385d9d"/><circle cx="826.4" cy="75.3" r="7.5" fill="#395d9d"/><circle cx="828.4" cy="80.1" r="7.5" fill="#395c9c"/><circle cx="829.2" cy="83.0" r="7.5" fill="#395c9c"/><circle cx="827.5" cy="87.0" r="7.5" fill="#395c9c"/><circle cx="825.9" cy="93.4" r="7.5" fill="#395c9c"/><circle cx="825.6" cy="96.8" r="7.5" fill="#3a5c9c"/><circle cx="825.7" cy="100.1" r="7.5" fill="#3a5c9b"/><circle cx="825.9" cy="105.1" r="7.5" fill="#3a5c9b"/><circle cx="827.3" cy="107.5" r="7.5" fill="#3a5c9b"/><circle cx="827.2" cy="113.7" r="7.5" fill="#3a5b9b"/><circle cx="825.5" cy="118.4" r="7.5" fill="#3b5b9b"/><circle cx="824.1" cy="122.8" r="7.5" fill="#3b5b9a"/><circle cx="826.0" cy="126.0" r="7.5" fill="#3b5b9a"/><circle cx="825.1" cy="130.0" r="7.5" fill="#3b5b9a"/><circle cx="823.6" cy="136.5" r="7.5" fill="#3b5b9a"/><circle cx="823.6" cy="137.5" r="7.5" fill="#3c5b9a"/><circle cx="822.6" cy="143.4" r="7.5" fill="#3c5b9a"/><circle cx="823.8" cy="149.0" r="7.5" fill="#3c5a99"/><circle cx="820.9" cy="151.1" r="7.5" fill="#3c5a99"/><circle cx="821.2" cy="156.4" r="7.5" fill="#3d5a99"/><circle cx="819.2" cy="161.7" r="7.5" fill="#3d5a99"/><circle cx="817.8" cy="165.0" r="7.5" fill="#3d5a99"/><circle cx="815.6" cy="171.5" r="7.5" fill="#3d5a98"/><circle cx="816.7" cy="173.4" r="7.5" fill="#3d5a98"/><circle cx="816.3" cy="179.1" r="7.5" fill="#3e5a98"/><circle cx="814.1" cy="184.1" r="7.5" fill="#3e5998"/><circle cx="814.2" cy="186.8" r="7.5" fill="#3e5998"/><circle cx="811.6" cy="189.7" r="7.5" fill="#3e5997"/><circle cx="811.0" cy="194.6" r="7.5" fill="#3f5997"/><circle cx="813.1" cy="198.6" r="7.5" fill="#3f5997"/><circle cx="811.7" cy="201.8" r="7.5" fill="#3f5997"/><circle cx="809.1" cy="205.1" r="7.5" fill="#3f5997"/><circle cx="809.9" cy="209.0" r="7.5" fill="#3f5997"/><circle cx="811.1" cy="211.3" r="7.5" fill="#3f5996"/><circle cx="810.0" cy="216.5" r="7.5" fill="#405996"/><circle cx="809.4" cy="218.0" r="7.5" fill="#405896"/><circle cx="806.7" cy="221.9" r="7.5" fill="#405896"/><circle cx="807.0" cy="226.0" r="7.5" fill="#405896"/><circle cx="805.1" cy="226.3" r="7.5" fill="#405896"/><circle cx="805.1" cy="229.2" r="7.5" fill="#405896"/><circle cx="805.1" cy="231.1" r="7.5" fill="#405896"/><circle cx="804.9" cy="233.7" r="7.5" fill="#405896"/><circle cx="805.2" cy="232.9" r="7.5" fill="#405895"/><circle cx="803.2" cy="235.6" r="7.5" fill="#415895"/><circle cx="806.1" cy="235.5" r="7.5" fill="#415895"/><circle cx="805.2" cy="239.3" r="7.5" fill="#415895"/><circle cx="802.8" cy="239.7" r="7.5" fill="#415895"/><circle cx="803.3" cy="240.0" r="7.5" fill="#415895"/><circle cx="801.8" cy="241.4" r="7.5" fill="#415895"/><circle cx="802.8" cy="243.9" r="7.5" fill="#415895"/><circle cx="801.8" cy="243.9" r="7.5" fill="#415895"/><circle cx="804.2" cy="246.0" r="7.5" fill="#415895"/><circle cx="802.6" cy="247.7" r="7.5" fill="#415895"/><circle cx="800.0" cy="248.7" r="7.5" fill="#415895"/><circle cx="801.3" cy="248.1" r="7.5" fill="#415795"/><circle cx="802.0" cy="249.5" r="7.5" fill="#435793"/><circle cx="805.6" cy="246.4" r="7.5" fill="#435793"/><circle cx="804.2" cy="247.0" r="7.5" fill="#435793"/><circle cx="804.1" cy="246.4" r="7.5" fill="#435793"/><circle cx="807.2" cy="241.4" r="7.5" fill="#435693"/><circle cx="806.7" cy="241.8" r="7.5" fill="#435693"/><circle cx="808.6" cy="239.8" r="7.5" fill="#435693"/><circle cx="811.9" cy="236.4" r="7.5" fill="#445693"/><circle cx="813.1" cy="234.5" r="7.5" fill="#445693"/><circle cx="814.2" cy="231.8" r="7.5" fill="#445692"/><circle cx="816.7" cy="230.1" r="7.5" fill="#445692"/><circle cx="819.6" cy="227.5" r="7.5" fill="#445692"/><circle cx="821.5" cy="225.6" r="7.5" fill="#445692"/><circle cx="823.1" cy="224.6" r="7.5" fill="#455692"/><circle cx="825.1" cy="220.1" r="7.5" fill="#455692"/><circle cx="828.9" cy="218.0" r="7.5" fill="#455591"/><circle cx="828.8" cy="215.8" r="7.5" fill="#455591"/><circle cx="832.9" cy="211.6" r="7.5" fill="#455591"/><circle cx="835.1" cy="208.4" r="7.5" fill="#465591"/><circle cx="836.6" cy="205.2" r="7.5" fill="#465591"/><circle cx="842.1" cy="203.9" r="7.5" fill="#465591"/><circle cx="842.6" cy="200.5" r="7.5" fill="#465590"/><circle cx="845.1" cy="197.5" r="7.5" fill="#465590"/><circle cx="847.8" cy="195.3" r="7.5" fill="#475490"/><circle cx="851.1" cy="190.6" r="7.5" fill="#475490"/><circle cx="855.1" cy="188.4" r="7.5" fill="#475490"/><circle cx="860.2" cy="185.5" r="7.5" fill="#47548f"/><circle cx="863.0" cy="181.8" r="7.5" fill="#48548f"/><circle cx="865.1" cy="180.0" r="7.5" fill="#48548f"/><circle cx="867.9" cy="178.8" r="7.5" fill="#48548f"/><circle cx="871.7" cy="176.0" r="7.5" fill="#48548f"/><circle cx="874.8" cy="172.9" r="7.5" fill="#49538e"/><circle cx="877.6" cy="167.3" r="7.5" fill="#49538e"/><circle cx="881.1" cy="166.1" r="7.5" fill="#49538e"/><circle cx="883.4" cy="162.6" r="7.5" fill="#49538e"/><circle cx="884.5" cy="161.4" r="7.5" fill="#49538d"/><circle cx="890.9" cy="160.4" r="7.5" fill="#4a538d"/><circle cx="892.8" cy="157.3" r="7.5" fill="#4a538d"/><circle cx="895.9" cy="154.2" r="7.5" fill="#4a528d"/><circle cx="897.5" cy="154.0" r="7.5" fill="#4a528d"/><circle cx="903.0" cy="150.3" r="7.5" fill="#4b528d"/><circle cx="906.7" cy="147.6" r="7.5" fill="#4b528c"/><circle cx="910.2" cy="143.1" r="7.5" fill="#4b528c"/><circle cx="912.0" cy="141.5" r="7.5" fill="#4b528c"/><circle cx="917.6" cy="137.6" r="7.5" fill="#4c528c"/><circle cx="919.5" cy="135.6" r="7.5" fill="#4c518b"/><circle cx="924.3" cy="132.4" r="7.5" fill="#4c518b"/><circle cx="928.7" cy="128.2" r="7.5" fill="#4c518b"/><circle cx="932.6" cy="125.9" r="7.5" fill="#4d518b"/><circle cx="928.4" cy="138.4" r="7.5" fill="#4d518b"/><circle cx="926.8" cy="148.4" r="7.5" fill="#4d518b"/><circle cx="921.8" cy="153.4" r="7.5" fill="#4d518b"/><circle cx="935.1" cy="130.0" r="7.5" fill="#4d518a"/><circle cx="939.3" cy="132.5" r="7.5" fill="#4d518a"/><circle cx="939.1" cy="138.7" r="7.5" fill="#4d518a"/><circle cx="936.8" cy="141.7" r="7.5" fill="#4e508a"/><circle cx="933.4" cy="144.3" r="7.5" fill="#4e508a"/><circle cx="933.5" cy="149.7" r="7.5" fill="#4e5089"/><circle cx="932.0" cy="151.0" r="7.5" fill="#4e5089"/><circle cx="929.8" cy="152.6" r="7.5" fill="#4e5089"/><circle cx="927.3" cy="156.2" r="7.5" fill="#4f5089"/><circle cx="925.9" cy="161.8" r="7.5" fill="#4f5089"/><circle cx="923.7" cy="162.2" r="7.5" fill="#4f5088"/><circle cx="918.4" cy="162.6" r="7.5" fill="#4f5088"/><circle cx="914.8" cy="162.0" r="7.5" fill="#504f88"/><circle cx="909.1" cy="163.9" r="7.5" fill="#504f88"/><circle cx="905.1" cy="166.8" r="7.5" fill="#504f88"/><circle cx="904.1" cy="172.2" r="7.5" fill="#504f87"/><circle cx="903.4" cy="175.1" r="7.5" fill="#514f87"/><circle cx="899.4" cy="179.6" r="7.5" fill="#514f87"/><circle cx="898.1" cy="181.6" r="7.5" fill="#514f87"/><circle cx="895.9" cy="183.5" r="7.5" fill="#514e87"/><circle cx="892.2" cy="185.8" r="7.5" fill="#514e86"/><circle cx="891.3" cy="185.9" r="7.5" fill="#524e86"/><circle cx="886.7" cy="190.1" r="7.5" fill="#524e86"/><circle cx="885.2" cy="194.1" r="7.5" fill="#524e86"/><circle cx="881.8" cy="196.7" r="7.5" fill="#524e86"/><circle cx="879.5" cy="199.7" r="7.5" fill="#524e85"/><circle cx="874.3" cy="200.8" r="7.5" fill="#534e85"/><circle cx="871.8" cy="203.4" r="7.5" fill="#534d85"/><circle cx="866.8" cy="206.6" r="7.5" fill="#534d85"/><circle cx="865.9" cy="207.6" r="7.5" fill="#534d85"/><circle cx="861.8" cy="211.7" r="7.5" fill="#544d84"/><circle cx="857.4" cy="213.1" r="7.5" fill="#544d84"/><circle cx="855.5" cy="215.9" r="7.5" fill="#544d84"/><circle cx="854.4" cy="216.7" r="7.5" fill="#544d84"/><circle cx="850.1" cy="220.1" r="7.5" fill="#544d84"/><circle cx="846.9" cy="222.0" r="7.5" fill="#554c84"/><circle cx="844.9" cy="222.3" r="7.5" fill="#554c83"/><circle cx="841.9" cy="225.7" r="7.5" fill="#554c83"/><circle cx="838.4" cy="228.4" r="7.5" fill="#554c83"/><circle cx="834.1" cy="231.6" r="7.5" fill="#554c83"/><circle cx="832.6" cy="230.5" r="7.5" fill="#554c83"/><circle cx="830.5" cy="233.7" r="7.5" fill="#564c83"/><circle cx="828.8" cy="236.9" r="7.5" fill="#564c83"/><circle cx="826.7" cy="236.8" r="7.5" fill="#564c82"/><circle cx="825.1" cy="237.2" r="7.5" fill="#564c82"/><circle cx="821.8" cy="238.1" r="7.5" fill="#564c82"/><circle cx="818.2" cy="241.7" r="7.5" fill="#564b82"/><circle cx="817.7" cy="244.0" r="7.5" fill="#574b82"/><circle cx="815.0" cy="245.1" r="7.5" fill="#574b82"/><circle cx="812.7" cy="245.8" r="7.5" fill="#574b82"/><circle cx="812.6" cy="247.6" r="7.5" fill="#574b82"/><circle cx="812.5" cy="247.8" r="7.5" fill="#574b81"/><circle cx="812.3" cy="247.7" r="7.5" fill="#574b81"/><circle cx="810.1" cy="249.7" r="7.5" fill="#574b81"/><circle cx="808.4" cy="253.3" r="7.5" fill="#574b81"/><circle cx="807.6" cy="254.0" r="7.5" fill="#574b81"/><circle cx="806.8" cy="252.5" r="7.5" fill="#574b81"/><circle cx="807.5" cy="252.9" r="7.5" fill="#574b81"/><circle cx="811.5" cy="259.7" r="7.5" fill="#594a80"/><circle cx="812.9" cy="261.0" r="7.5" fill="#594a80"/><circle cx="815.1" cy="262.6" r="7.5" fill="#594a80"/><circle cx="814.6" cy="260.9" r="7.5" fill="#594a80"/><circle cx="816.2" cy="262.8" r="7.5" fill="#594a80"/><circle cx="819.7" cy="263.0" r="7.5" fill="#594a7f"/><circle cx="820.0" cy="260.9" r="7.5" fill="#594a7f"/><circle cx="822.6" cy="262.1" r="7.5" fill="#594a7f"/><circle cx="826.2" cy="262.2" r="7.5" fill="#5a4a7f"/><circle cx="828.5" cy="260.5" r="7.5" fill="#5a497f"/><circle cx="833.9" cy="260.1" r="7.5" fill="#5a497f"/><circle cx="835.0" cy="261.7" r="7.5" fill="#5a497f"/><circle cx="839.1" cy="263.9" r="7.5" fill="#5a497e"/><circle cx="840.3" cy="261.8" r="7.5" fill="#5b497e"/><circle cx="845.6" cy="260.2" r="7.5" fill="#5b497e"/><circle cx="849.0" cy="260.8" r="7.5" fill="#5b497e"/><circle cx="851.7" cy="262.6" r="7.5" fill="#5b497e"/><circle cx="853.9" cy="262.6" r="7.5" fill="#5b497d"/><circle cx="858.8" cy="263.6" r="7.5" fill="#5c487d"/><circle cx="865.1" cy="263.6" r="7.5" fill="#5c487d"/><circle cx="868.4" cy="262.6" r="7.5" fill="#5c487d"/><circle cx="871.0" cy="262.2" r="7.5" fill="#5c487d"/><circle cx="876.2" cy="261.9" r="7.5" fill="#5d487c"/><circle cx="880.3" cy="265.3" r="7.5" fill="#5d487c"/><circle cx="883.5" cy="265.1" r="7.5" fill="#5d487c"/><circle cx="889.9" cy="265.3" r="7.5" fill="#5d477c"/><circle cx="891.8" cy="267.4" r="7.5" fill="#5e477b"/><circle cx="898.0" cy="266.4" r="7.5" fill="#5e477b"/><circle cx="901.0" cy="267.2" r="7.5" fill="#5e477b"/><circle cx="906.9" cy="264.6" r="7.5" fill="#5e477b"/><circle cx="911.7" cy="266.7" r="7.5" fill="#5f477b"/><circle cx="915.1" cy="267.3" r="7.5" fill="#5f477a"/><circle cx="919.6" cy="267.9" r="7.5" fill="#5f467a"/><circle cx="922.5" cy="267.6" r="7.5" fill="#5f467a"/><circle cx="923.0" cy="270.6" r="7.5" fill="#60467a"/><circle cx="927.6" cy="272.6" r="7.5" fill="#60467a"/><circle cx="929.6" cy="271.4" r="7.5" fill="#604679"/><circle cx="933.4" cy="271.7" r="7.5" fill="#604679"/><circle cx="937.9" cy="271.7" r="7.5" fill="#604679"/><circle cx="940.1" cy="275.1" r="7.5" fill="#614679"/><circle cx="945.7" cy="277.6" r="7.5" fill="#614579"/><circle cx="948.4" cy="279.2" r="7.5" fill="#614578"/><circle cx="950.3" cy="278.2" r="7.5" fill="#614578"/><circle cx="955.0" cy="278.3" r="7.5" fill="#624578"/><circle cx="960.1" cy="279.2" r="7.5" fill="#624578"/><circle cx="963.8" cy="281.8" r="7.5" fill="#624578"/><circle cx="968.7" cy="281.6" r="7.5" fill="#624577"/><circle cx="970.1" cy="283.4" r="7.5" fill="#624577"/><circle cx="972.7" cy="285.1" r="7.5" fill="#634477"/><circle cx="973.5" cy="288.4" r="7.5" fill="#634477"/><circle cx="936.7" cy="283.4" r="7.5" fill="#634477"/><circle cx="943.4" cy="283.4" r="7.5" fill="#634477"/><circle cx="961.8" cy="286.8" r="7.5" fill="#634477"/><circle cx="972.4" cy="291.0" r="7.5" fill="#634477"/><circle cx="971.8" cy="294.3" r="7.5" fill="#634477"/><circle cx="969.6" cy="292.7" r="7.5" fill="#634476"/><circle cx="964.4" cy="293.2" r="7.5" fill="#644476"/><circle cx="961.8" cy="295.1" r="7.5" fill="#644476"/><circle cx="958.6" cy="297.6" r="7.5" fill="#644476"/><circle cx="955.3" cy="297.6" r="7.5" fill="#644376"/><circle cx="950.9" cy="301.8" r="7.5" fill="#644375"/><circle cx="945.5" cy="298.8" r="7.5" fill="#654375"/><circle cx="942.4" cy="295.9" r="7.5" fill="#654375"/><circle cx="937.6" cy="295.1" r="7.5" fill="#654375"/><circle cx="934.7" cy="294.7" r="7.5" fill="#664374"/><circle cx="930.3" cy="290.9" r="7.5" fill="#664374"/><circle cx="926.7" cy="291.8" r="7.5" fill="#664274"/><circle cx="921.5" cy="294.7" r="7.5" fill="#664274"/><circle cx="919.7" cy="293.4" r="7.5" fill="#664274"/><circle cx="916.7" cy="296.8" r="7.5" fill="#674273"/><circle cx="910.5" cy="294.9" r="7.5" fill="#674273"/><circle cx="908.4" cy="294.3" r="7.5" fill="#674273"/><circle cx="904.4" cy="291.5" r="7.5" fill="#674273"/><circle cx="900.0" cy="292.6" r="7.5" fill="#684273"/><circle cx="896.3" cy="294.0" r="7.5" fill="#684172"/><circle cx="893.5" cy="293.5" r="7.5" fill="#684172"/><circle cx="891.4" cy="291.6" r="7.5" fill="#684172"/><circle cx="884.9" cy="291.6" r="7.5" fill="#684172"/><circle cx="883.5" cy="290.1" r="7.5" fill="#694172"/><circle cx="878.4" cy="291.9" r="7.5" fill="#694171"/><circle cx="876.8" cy="290.9" r="7.5" fill="#694171"/><circle cx="874.0" cy="287.2" r="7.5" fill="#694171"/><circle cx="869.6" cy="286.8" r="7.5" fill="#6a4071"/><circle cx="866.8" cy="285.9" r="7.5" fill="#6a4071"/><circle cx="861.4" cy="286.9" r="7.5" fill="#6a4070"/><circle cx="859.7" cy="283.6" r="7.5" fill="#6a4070"/><circle cx="856.7" cy="283.4" r="7.5" fill="#6a4070"/><circle cx="853.8" cy="281.9" r="7.5" fill="#6b4070"/><circle cx="848.9" cy="281.8" r="7.5" fill="#6b4070"/><circle cx="845.8" cy="281.5" r="7.5" fill="#6b4070"/><circle cx="843.4" cy="279.3" r="7.5" fill="#6b406f"/><circle cx="838.8" cy="277.0" r="7.5" fill="#6b3f6f"/><circle cx="839.3" cy="277.0" r="7.5" fill="#6c3f6f"/><circle cx="833.8" cy="278.0" r="7.5" fill="#6c3f6f"/><circle cx="831.7" cy="275.1" r="7.5" fill="#6c3f6f"/><circle cx="828.5" cy="271.9" r="7.5" fill="#6c3f6f"/><circle cx="824.9" cy="272.8" r="7.5" fill="#6c3f6e"/><circle cx="823.3" cy="269.5" r="7.5" fill="#6c3f6e"/><circle cx="820.0" cy="270.1" r="7.5" fill="#6d3f6e"/><circle cx="818.4" cy="268.5" r="7.5" fill="#6d3f6e"/><circle cx="817.0" cy="268.3" r="7.5" fill="#6d3f6e"/><circle cx="816.3" cy="268.0" r="7.5" fill="#6d3f6e"/><circle cx="815.6" cy="267.4" r="7.5" fill="#6d3e6e"/><circle cx="813.8" cy="266.0" r="7.5" fill="#6d3e6e"/><circle cx="809.8" cy="267.6" r="7.5" fill="#6d3e6e"/><circle cx="807.6" cy="272.5" r="7.5" fill="#6f3d6c"/><circle cx="808.9" cy="273.7" r="7.5" fill="#6f3d6c"/><circle cx="809.9" cy="274.1" r="7.5" fill="#6f3d6c"/><circle cx="807.8" cy="276.9" r="7.5" fill="#6f3d6c"/><circle cx="812.1" cy="276.8" r="7.5" fill="#6f3d6c"/><circle cx="809.8" cy="277.7" r="7.5" fill="#6f3d6c"/><circle cx="814.0" cy="278.4" r="7.5" fill="#6f3d6c"/><circle cx="813.1" cy="278.5" r="7.5" fill="#6f3d6c"/><circle cx="815.8" cy="282.5" r="7.5" fill="#6f3d6c"/><circle cx="814.9" cy="283.5" r="7.5" fill="#6f3d6c"/><circle cx="816.7" cy="283.3" r="7.5" fill="#6f3d6c"/><circle cx="819.2" cy="287.3" r="7.5" fill="#703d6b"/><circle cx="821.4" cy="285.3" r="7.5" fill="#703d6b"/><circle cx="822.4" cy="290.8" r="7.5" fill="#703d6b"/><circle cx="825.0" cy="289.4" r="7.5" fill="#703d6b"/><circle cx="828.4" cy="293.4" r="7.5" fill="#703d6b"/><circle cx="832.3" cy="295.2" r="7.5" fill="#703c6b"/><circle cx="830.8" cy="299.7" r="7.5" fill="#713c6b"/><circle cx="832.5" cy="302.7" r="7.5" fill="#713c6a"/><circle cx="838.4" cy="304.3" r="7.5" fill="#713c6a"/><circle cx="838.4" cy="306.7" r="7.5" fill="#713c6a"/><circle cx="840.3" cy="308.9" r="7.5" fill="#713c6a"/><circle cx="842.3" cy="315.4" r="7.5" fill="#723c6a"/><circle cx="846.1" cy="317.1" r="7.5" fill="#723c69"/><circle cx="848.4" cy="320.1" r="7.5" fill="#723c69"/><circle cx="850.3" cy="322.0" r="7.5" fill="#723b69"/><circle cx="854.2" cy="326.1" r="7.5" fill="#723b69"/><circle cx="856.4" cy="328.9" r="7.5" fill="#733b69"/><circle cx="858.4" cy="333.4" r="7.5" fill="#733b69"/><circle cx="860.2" cy="336.0" r="7.5" fill="#733b68"/><circle cx="861.5" cy="339.7" r="7.5" fill="#733b68"/><circle cx="867.0" cy="341.9" r="7.5" fill="#743b68"/><circle cx="868.5" cy="346.8" r="7.5" fill="#743b68"/><circle cx="869.8" cy="349.3" r="7.5" fill="#743a68"/><circle cx="873.9" cy="354.3" r="7.5" fill="#743a67"/><circle cx="874.0" cy="358.0" r="7.5" fill="#743a67"/><circle cx="873.3" cy="361.9" r="7.5" fill="#753a67"/><circle cx="878.6" cy="366.1" r="7.5" fill="#753a67"/><circle cx="878.0" cy="368.0" r="7.5" fill="#753a67"/><circle cx="882.1" cy="371.8" r="7.5" fill="#753a66"/><circle cx="883.2" cy="373.7" r="7.5" fill="#753a66"/><circle cx="884.2" cy="376.7" r="7.5" fill="#763a66"/><circle cx="886.4" cy="380.5" r="7.5" fill="#763966"/><circle cx="889.3" cy="383.4" r="7.5" fill="#763966"/><circle cx="889.9" cy="389.2" r="7.5" fill="#763966"/><circle cx="886.5" cy="391.0" r="7.5" fill="#763965"/><circle cx="889.4" cy="391.5" r="7.5" fill="#773965"/><circle cx="894.8" cy="394.4" r="7.5" fill="#773965"/><circle cx="895.9" cy="395.1" r="7.5" fill="#773965"/><circle cx="895.1" cy="399.2" r="7.5" fill="#773965"/><circle cx="896.7" cy="400.4" r="7.5" fill="#773965"/><circle cx="896.8" cy="405.1" r="7.5" fill="#773864"/><circle cx="899.2" cy="406.8" r="7.5" fill="#783864"/><circle cx="903.5" cy="411.8" r="7.5" fill="#783864"/><circle cx="906.2" cy="414.9" r="7.5" fill="#783864"/><circle cx="906.0" cy="417.6" r="7.5" fill="#783864"/><circle cx="907.3" cy="421.5" r="7.5" fill="#783864"/><circle cx="906.5" cy="424.9" r="7.5" fill="#793863"/><circle cx="906.8" cy="428.4" r="7.5" fill="#793863"/><circle cx="902.8" cy="429.4" r="7.5" fill="#793763"/><circle cx="899.3" cy="434.3" r="7.5" fill="#793763"/><circle cx="899.3" cy="426.8" r="7.5" fill="#793763"/><circle cx="897.0" cy="420.0" r="7.5" fill="#793763"/><circle cx="896.1" cy="432.9" r="7.5" fill="#7a3763"/><circle cx="893.4" cy="431.8" r="7.5" fill="#7a3762"/><circle cx="889.8" cy="427.8" r="7.5" fill="#7a3762"/><circle cx="887.5" cy="424.0" r="7.5" fill="#7a3762"/><circle cx="885.1" cy="420.1" r="7.5" fill="#7a3762"/><circle cx="882.1" cy="419.4" r="7.5" fill="#7b3762"/><circle cx="881.2" cy="417.7" r="7.5" fill="#7b3761"/><circle cx="876.7" cy="414.3" r="7.5" fill="#7b3661"/><circle cx="874.8" cy="409.2" r="7.5" fill="#7b3661"/><circle cx="873.7" cy="406.4" r="7.5" fill="#7b3661"/><circle cx="871.7" cy="403.4" r="7.5" fill="#7c3661"/><circle cx="869.0" cy="400.4" r="7.5" fill="#7c3661"/><circle cx="868.8" cy="396.6" r="7.5" fill="#7c3660"/><circle cx="866.7" cy="393.4" r="7.5" fill="#7c3660"/><circle cx="866.5" cy="390.8" r="7.5" fill="#7c3660"/><circle cx="861.9" cy="388.6" r="7.5" fill="#7d3660"/><circle cx="860.0" cy="385.0" r="7.5" fill="#7d3560"/><circle cx="859.3" cy="380.4" r="7.5" fill="#7d355f"/><circle cx="856.7" cy="376.7" r="7.5" fill="#7d355f"/><circle cx="854.8" cy="372.4" r="7.5" fill="#7d355f"/><circle cx="849.5" cy="369.3" r="7.5" fill="#7e355f"/><circle cx="848.4" cy="366.7" r="7.5" fill="#7e355f"/><circle cx="848.8" cy="362.4" r="7.5" fill="#7e355f"/><circle cx="846.8" cy="360.1" r="7.5" fill="#7e355e"/><circle cx="842.3" cy="355.1" r="7.5" fill="#7f345e"/><circle cx="842.5" cy="353.2" r="7.5" fill="#7f345e"/><circle cx="839.2" cy="348.5" r="7.5" fill="#7f345e"/><circle cx="837.3" cy="345.5" r="7.5" fill="#7f345e"/><circle cx="835.7" cy="343.5" r="7.5" fill="#7f345d"/><circle cx="832.6" cy="338.4" r="7.5" fill="#80345d"/><circle cx="831.5" cy="333.8" r="7.5" fill="#80345d"/><circle cx="830.6" cy="333.0" r="7.5" fill="#80345d"/><circle cx="826.7" cy="328.4" r="7.5" fill="#80335d"/><circle cx="823.6" cy="323.2" r="7.5" fill="#80335c"/><circle cx="822.5" cy="323.8" r="7.5" fill="#81335c"/><circle cx="822.7" cy="316.4" r="7.5" fill="#81335c"/><circle cx="820.0" cy="315.1" r="7.5" fill="#81335c"/><circle cx="818.6" cy="313.0" r="7.5" fill="#81335c"/><circle cx="816.7" cy="310.8" r="7.5" fill="#81335c"/><circle cx="814.0" cy="307.3" r="7.5" fill="#81335b"/><circle cx="814.9" cy="305.0" r="7.5" fill="#82335b"/><circle cx="813.4" cy="301.7" r="7.5" fill="#82335b"/><circle cx="811.3" cy="300.2" r="7.5" fill="#82325b"/><circle cx="809.2" cy="297.0" r="7.5" fill="#82325b"/><circle cx="808.8" cy="294.3" r="7.5" fill="#82325b"/><circle cx="810.0" cy="290.1" r="7.5" fill="#82325b"/><circle cx="806.7" cy="288.4" r="7.5" fill="#83325b"/><circle cx="805.2" cy="287.0" r="7.5" fill="#83325a"/><circle cx="804.2" cy="285.0" r="7.5" fill="#83325a"/><circle cx="806.6" cy="283.5" r="7.5" fill="#83325a"/><circle cx="805.6" cy="283.7" r="7.5" fill="#83325a"/><circle cx="802.4" cy="279.7" r="7.5" fill="#83325a"/><circle cx="804.1" cy="281.6" r="7.5" fill="#83325a"/><circle cx="803.5" cy="278.8" r="7.5" fill="#83325a"/><circle cx="801.8" cy="277.7" r="7.5" fill="#83325a"/><circle cx="802.3" cy="277.6" r="7.5" fill="#83325a"/><circle cx="804.0" cy="275.3" r="7.5" fill="#83325a"/><circle cx="800.8" cy="277.1" r="7.5" fill="#853159"/><circle cx="801.1" cy="276.9" r="7.5" fill="#853159"/><circle cx="801.2" cy="278.7" r="7.5" fill="#853159"/><circle cx="798.9" cy="280.4" r="7.5" fill="#853158"/><circle cx="797.4" cy="282.9" r="7.5" fill="#853158"/><circle cx="800.4" cy="282.2" r="7.5" fill="#853158"/><circle cx="799.2" cy="286.5" r="7.5" fill="#853158"/><circle cx="799.6" cy="285.9" r="7.5" fill="#853158"/><circle cx="800.6" cy="287.5" r="7.5" fill="#853158"/><circle cx="798.4" cy="288.5" r="7.5" fill="#853058"/><circle cx="798.0" cy="289.8" r="7.5" fill="#853058"/><circle cx="799.9" cy="291.6" r="7.5" fill="#853058"/><circle cx="799.7" cy="291.5" r="7.5" fill="#863058"/><circle cx="800.3" cy="295.0" r="7.5" fill="#863058"/><circle cx="800.3" cy="299.3" r="7.5" fill="#863058"/><circle cx="799.8" cy="300.5" r="7.5" fill="#863058"/><circle cx="801.4" cy="303.8" r="7.5" fill="#863057"/><circle cx="801.3" cy="306.9" r="7.5" fill="#863057"/><circle cx="798.8" cy="310.6" r="7.5" fill="#863057"/><circle cx="800.1" cy="315.0" r="7.5" fill="#873057"/><circle cx="801.4" cy="320.4" r="7.5" fill="#873057"/><circle cx="798.1" cy="323.4" r="7.5" fill="#873057"/><circle cx="801.1" cy="324.2" r="7.5" fill="#872f56"/><circle cx="799.8" cy="330.0" r="7.5" fill="#872f56"/><circle cx="799.1" cy="332.7" r="7.5" fill="#882f56"/><circle cx="801.4" cy="336.4" r="7.5" fill="#882f56"/><circle cx="797.4" cy="339.8" r="7.5" fill="#882f56"/><circle cx="799.3" cy="345.1" r="7.5" fill="#882f56"/><circle cx="799.9" cy="347.4" r="7.5" fill="#882f55"/><circle cx="800.1" cy="353.1" r="7.5" fill="#882f55"/><circle cx="799.8" cy="355.3" r="7.5" fill="#892f55"/><circle cx="798.4" cy="360.1" r="7.5" fill="#892e55"/><circle cx="798.8" cy="363.0" r="7.5" fill="#892e55"/><circle cx="797.6" cy="367.0" r="7.5" fill="#892e55"/><circle cx="798.5" cy="370.9" r="7.5" fill="#892e54"/><circle cx="797.6" cy="375.1" r="7.5" fill="#8a2e54"/><circle cx="799.0" cy="377.8" r="7.5" fill="#8a2e54"/><circle cx="796.5" cy="384.6" r="7.5" fill="#8a2e54"/><circle cx="795.9" cy="388.5" r="7.5" fill="#8a2e54"/><circle cx="795.0" cy="395.4" r="7.5" fill="#8b2e53"/><circle cx="795.1" cy="398.3" r="7.5" fill="#8b2d53"/><circle cx="794.8" cy="403.9" r="7.5" fill="#8b2d53"/><circle cx="794.3" cy="406.7" r="7.5" fill="#8b2d53"/><circle cx="794.7" cy="410.3" r="7.5" fill="#8b2d53"/><circle cx="791.8" cy="411.9" r="7.5" fill="#8c2d53"/><circle cx="792.6" cy="416.7" r="7.5" fill="#8c2d52"/><circle cx="791.2" cy="420.2" r="7.5" fill="#8c2d52"/><circle cx="792.5" cy="425.5" r="7.5" fill="#8c2d52"/><circle cx="792.6" cy="427.6" r="7.5" fill="#8c2d52"/><circle cx="789.8" cy="429.7" r="7.5" fill="#8c2c52"/><circle cx="792.0" cy="436.5" r="7.5" fill="#8d2c52"/><circle cx="790.1" cy="438.4" r="7.5" fill="#8d2c51"/><circle cx="789.8" cy="441.7" r="7.5" fill="#8d2c51"/><circle cx="791.0" cy="444.8" r="7.5" fill="#8d2c51"/><circle cx="788.4" cy="448.4" r="7.5" fill="#8d2c51"/><circle cx="786.5" cy="453.8" r="7.5" fill="#8e2c51"/><circle cx="785.1" cy="456.8" r="7.5" fill="#8e2c51"/><circle cx="788.3" cy="460.1" r="7.5" fill="#8e2c50"/><circle cx="788.4" cy="465.1" r="7.5" fill="#8e2b50"/><circle cx="787.4" cy="467.4" r="7.5" fill="#8e2b50"/><circle cx="783.9" cy="471.2" r="7.5" fill="#8f2b50"/><circle cx="780.1" cy="473.5" r="7.5" fill="#8f2b50"/><circle cx="774.2" cy="473.2" r="7.5" fill="#8f2b4f"/><circle cx="772.0" cy="471.5" r="7.5" fill="#8f2b4f"/><circle cx="775.9" cy="465.1" r="7.5" fill="#8f2b4f"/><circle cx="778.4" cy="468.5" r="7.5" fill="#8f2b4f"/><circle cx="768.6" cy="466.8" r="7.5" fill="#8f2b4f"/><circle cx="765.5" cy="463.4" r="7.5" fill="#902b4f"/><circle cx="763.4" cy="459.3" r="7.5" fill="#902a4f"/><circle cx="762.8" cy="453.7" r="7.5" fill="#902a4e"/><circle cx="764.5" cy="450.0" r="7.5" fill="#902a4e"/><circle cx="764.8" cy="446.8" r="7.5" fill="#912a4e"/><circle cx="766.7" cy="440.9" r="7.5" fill="#912a4e"/><circle cx="767.7" cy="435.8" r="7.5" fill="#912a4e"/><circle cx="771.0" cy="433.4" r="7.5" fill="#912a4d"/><circle cx="770.1" cy="429.2" r="7.5" fill="#912a4d"/><circle cx="770.3" cy="423.4" r="7.5" fill="#92294d"/><circle cx="771.3" cy="422.1" r="7.5" fill="#92294d"/><circle cx="772.6" cy="415.9" r="7.5" fill="#92294d"/><circle cx="770.1" cy="411.2" r="7.5" fill="#92294c"/><circle cx="768.1" cy="409.6" r="7.5" fill="#93294c"/><circle cx="767.5" cy="405.0" r="7.5" fill="#93294c"/><circle cx="769.4" cy="401.3" r="7.5" fill="#93294c"/><circle cx="768.4" cy="396.7" r="7.5" fill="#93294c"/><circle cx="770.1" cy="390.8" r="7.5" fill="#93284c"/><circle cx="770.5" cy="385.9" r="7.5" fill="#94284b"/><circle cx="770.9" cy="383.5" r="7.5" fill="#94284b"/><circle cx="772.8" cy="377.6" r="7.5" fill="#94284b"/><circle cx="771.7" cy="375.1" r="7.5" fill="#94284b"/><circle cx="775.1" cy="371.8" r="7.5" fill="#94284b"/><circle cx="774.9" cy="368.4" r="7.5" fill="#95284a"/><circle cx="774.2" cy="365.8" r="7.5" fill="#95284a"/><circle cx="775.9" cy="360.1" r="7.5" fill="#95274a"/><circle cx="774.7" cy="356.1" r="7.5" fill="#95274a"/><circle cx="777.9" cy="350.6" r="7.5" fill="#95274a"/><circle cx="778.4" cy="346.7" r="7.5" fill="#962749"/><circle cx="777.7" cy="342.6" r="7.5" fill="#962749"/><circle cx="780.3" cy="336.3" r="7.5" fill="#962749"/><circle cx="782.1" cy="335.0" r="7.5" fill="#962749"/><circle cx="781.7" cy="328.4" r="7.5" fill="#972749"/><circle cx="781.1" cy="326.9" r="7.5" fill="#972648"/><circle cx="784.9" cy="322.0" r="7.5" fill="#972648"/><circle cx="785.4" cy="319.8" r="7.5" fill="#972648"/><circle cx="784.2" cy="315.0" r="7.5" fill="#972648"/><circle cx="785.2" cy="313.1" r="7.5" fill="#972648"/><circle cx="784.5" cy="306.8" r="7.5" fill="#982648"/><circle cx="785.1" cy="304.6" r="7.5" fill="#982648"/><circle cx="788.7" cy="299.7" r="7.5" fill="#982647"/><circle cx="788.5" cy="297.2" r="7.5" fill="#982647"/><circle cx="788.0" cy="295.0" r="7.5" fill="#982647"/><circle cx="789.4" cy="295.3" r="7.5" fill="#982647"/><circle cx="788.2" cy="292.7" r="7.5" fill="#982647"/><circle cx="791.1" cy="290.5" r="7.5" fill="#992547"/><circle cx="788.1" cy="289.2" r="7.5" fill="#992547"/><circle cx="791.2" cy="287.8" r="7.5" fill="#992547"/><circle cx="789.4" cy="288.3" r="7.5" fill="#992547"/><circle cx="790.6" cy="283.6" r="7.5" fill="#992547"/><circle cx="789.7" cy="282.9" r="7.5" fill="#992547"/><circle cx="793.0" cy="282.4" r="7.5" fill="#992547"/><circle cx="792.8" cy="280.3" r="7.5" fill="#992546"/><circle cx="792.6" cy="281.3" r="7.5" fill="#992546"/><circle cx="793.5" cy="278.2" r="7.5" fill="#992546"/><circle cx="790.6" cy="274.6" r="7.5" fill="#9b2445"/><circle cx="788.8" cy="276.1" r="7.5" fill="#9b2445"/><circle cx="790.2" cy="277.2" r="7.5" fill="#9b2445"/><circle cx="789.3" cy="277.6" r="7.5" fill="#9b2445"/><circle cx="787.5" cy="278.9" r="7.5" fill="#9b2445"/><circle cx="786.8" cy="280.0" r="7.5" fill="#9b2445"/><circle cx="784.9" cy="282.8" r="7.5" fill="#9b2444"/><circle cx="783.5" cy="284.0" r="7.5" fill="#9c2444"/><circle cx="780.7" cy="287.1" r="7.5" fill="#9c2444"/><circle cx="777.7" cy="289.5" r="7.5" fill="#9c2444"/><circle cx="776.8" cy="291.7" r="7.5" fill="#9c2344"/><circle cx="774.8" cy="292.6" r="7.5" fill="#9c2344"/><circle cx="773.1" cy="296.2" r="7.5" fill="#9c2344"/><circle cx="769.0" cy="297.9" r="7.5" fill="#9d2343"/><circle cx="768.2" cy="298.8" r="7.5" fill="#9d2343"/><circle cx="766.0" cy="304.1" r="7.5" fill="#9d2343"/><circle cx="765.1" cy="305.1" r="7.5" fill="#9d2343"/><circle cx="764.2" cy="307.8" r="7.5" fill="#9d2343"/><circle cx="759.1" cy="309.7" r="7.5" fill="#9d2343"/><circle cx="754.6" cy="313.2" r="7.5" fill="#9e2242"/><circle cx="753.4" cy="316.8" r="7.5" fill="#9e2242"/><circle cx="749.9" cy="320.5" r="7.5" fill="#9e2242"/><circle cx="749.5" cy="322.0" r="7.5" fill="#9e2242"/><circle cx="744.0" cy="326.9" r="7.5" fill="#9f2241"/><circle cx="741.7" cy="328.5" r="7.5" fill="#9f2241"/><circle cx="736.7" cy="333.0" r="7.5" fill="#9f2241"/><circle cx="736.2" cy="334.0" r="7.5" fill="#9f2241"/><circle cx="732.4" cy="336.8" r="7.5" fill="#a02141"/><circle cx="728.4" cy="338.5" r="7.5" fill="#a02140"/><circle cx="725.2" cy="342.0" r="7.5" fill="#a02140"/><circle cx="723.9" cy="345.9" r="7.5" fill="#a02140"/><circle cx="720.1" cy="348.4" r="7.5" fill="#a12140"/><circle cx="715.9" cy="350.2" r="7.5" fill="#a12140"/><circle cx="714.6" cy="352.3" r="7.5" fill="#a1213f"/><circle cx="711.8" cy="355.9" r="7.5" fill="#a1213f"/><circle cx="709.8" cy="357.3" r="7.5" fill="#a1203f"/><circle cx="706.8" cy="361.7" r="7.5" fill="#a2203f"/><circle cx="702.3" cy="364.6" r="7.5" fill="#a2203f"/><circle cx="698.4" cy="366.7" r="7.5" fill="#a2203e"/><circle cx="695.1" cy="369.9" r="7.5" fill="#a2203e"/><circle cx="691.3" cy="372.6" r="7.5" fill="#a3203e"/><circle cx="690.1" cy="375.1" r="7.5" fill="#a3203e"/><circle cx="688.6" cy="377.1" r="7.5" fill="#a31f3e"/><circle cx="683.4" cy="376.8" r="7.5" fill="#a31f3d"/><circle cx="683.2" cy="377.6" r="7.5" fill="#a31f3d"/><circle cx="679.1" cy="382.4" r="7.5" fill="#a41f3d"/><circle cx="676.7" cy="385.1" r="7.5" fill="#a41f3d"/><circle cx="675.4" cy="389.6" r="7.5" fill="#a41f3d"/><circle cx="671.7" cy="391.8" r="7.5" fill="#a41f3c"/><circle cx="666.3" cy="394.3" r="7.5" fill="#a51f3c"/><circle cx="663.4" cy="396.0" r="7.5" fill="#a51e3c"/><circle cx="658.5" cy="394.0" r="7.5" fill="#a51e3c"/><circle cx="655.9" cy="393.5" r="7.5" fill="#a51e3c"/><circle cx="660.0" cy="390.1" r="7.5" fill="#a51e3c"/><circle cx="665.0" cy="386.8" r="7.5" fill="#a51e3c"/><circle cx="652.9" cy="389.5" r="7.5" fill="#a51e3b"/><circle cx="650.9" cy="386.0" r="7.5" fill="#a61e3b"/><circle cx="651.4" cy="383.7" r="7.5" fill="#a61e3b"/><circle cx="654.0" cy="378.9" r="7.5" fill="#a61e3b"/><circle cx="658.4" cy="375.1" r="7.5" fill="#a61d3a"/><circle cx="662.3" cy="371.9" r="7.5" fill="#a71d3a"/><circle cx="665.0" cy="368.4" r="7.5" fill="#a71d3a"/><circle cx="669.0" cy="364.9" r="7.5" fill="#a71d3a"/><circle cx="670.7" cy="362.5" r="7.5" fill="#a71d3a"/><circle cx="673.4" cy="360.1" r="7.5" fill="#a81d39"/><circle cx="677.7" cy="355.6" r="7.5" fill="#a81d39"/><circle cx="680.0" cy="355.7" r="7.5" fill="#a81d39"/><circle cx="683.4" cy="351.7" r="7.5" fill="#a81c39"/><circle cx="688.8" cy="349.9" r="7.5" fill="#a91c39"/><circle cx="690.1" cy="345.0" r="7.5" fill="#a91c38"/><circle cx="690.6" cy="340.8" r="7.5" fill="#a91c38"/><circle cx="694.3" cy="338.4" r="7.5" fill="#a91c38"/><circle cx="698.1" cy="335.3" r="7.5" fill="#aa1c38"/><circle cx="698.0" cy="334.7" r="7.5" fill="#aa1c38"/><circle cx="701.8" cy="331.7" r="7.5" fill="#aa1b37"/><circle cx="706.1" cy="328.9" r="7.5" fill="#aa1b37"/><circle cx="710.1" cy="326.7" r="7.5" fill="#aa1b37"/><circle cx="714.3" cy="322.6" r="7.5" fill="#ab1b37"/><circle cx="716.0" cy="322.5" r="7.5" fill="#ab1b37"/><circle cx="715.9" cy="321.0" r="7.5" fill="#ab1b36"/><circle cx="717.8" cy="315.6" r="7.5" fill="#ab1b36"/><circle cx="721.7" cy="313.4" r="7.5" fill="#ab1b36"/><circle cx="723.6" cy="310.2" r="7.5" fill="#ac1a36"/><circle cx="726.9" cy="307.6" r="7.5" fill="#ac1a36"/><circle cx="731.7" cy="305.1" r="7.5" fill="#ac1a35"/><circle cx="736.1" cy="302.7" r="7.5" fill="#ac1a35"/><circle cx="737.9" cy="298.2" r="7.5" fill="#ad1a35"/><circle cx="741.7" cy="296.7" r="7.5" fill="#ad1a35"/><circle cx="745.6" cy="292.6" r="7.5" fill="#ad1a35"/><circle cx="745.5" cy="292.1" r="7.5" fill="#ad1a34"/><circle cx="749.7" cy="291.9" r="7.5" fill="#ae1934"/><circle cx="753.4" cy="288.4" r="7.5" fill="#ae1934"/><circle cx="756.8" cy="284.7" r="7.5" fill="#ae1934"/><circle cx="757.1" cy="283.0" r="7.5" fill="#ae1934"/><circle cx="761.5" cy="281.9" r="7.5" fill="#ae1934"/><circle cx="762.2" cy="281.4" r="7.5" fill="#ae1933"/><circle cx="765.1" cy="280.0" r="7.5" fill="#af1933"/><circle cx="769.2" cy="279.1" r="7.5" fill="#af1933"/><circle cx="768.4" cy="276.9" r="7.5" fill="#af1933"/><circle cx="773.5" cy="273.1" r="7.5" fill="#af1933"/><circle cx="773.6" cy="275.4" r="7.5" fill="#af1833"/><circle cx="776.8" cy="271.7" r="7.5" fill="#af1833"/><circle cx="781.0" cy="270.8" r="7.5" fill="#b01832"/><circle cx="781.7" cy="269.1" r="7.5" fill="#b01832"/><circle cx="783.3" cy="265.4" r="7.5" fill="#b01832"/><circle cx="786.4" cy="266.0" r="7.5" fill="#b01832"/></g>
<text x="317.40" y="31.00" font-size="25.2" text-anchor="middle" fill="#000" >Original data</text><text x="798.60" y="31.00" font-size="25.2" text-anchor="middle" fill="#000" >Mapping data</text>
<g opacity="0.36" fill="#2a2a2a" font-family="'Liberation Sans','Noto Sans CJK SC',sans-serif" font-size="30">
<g transform="translate(653.9,479.7)">
<path d="M14.6 0C6.5 0 0 5.4 0 12.1c0 3.8 2.1 7.1 5.4 9.4L4.2 25.6l4.9-2.5c1.7.5 3.6.9 5.5.9.5 0 .9 0 1.4-.1-.3-1-.5-2-.5-3.1 0-6.2 5.7-11.2 12.7-11.2.4 0 .8 0 1.2.1C27.9 4.1 21.8 0 14.6 0z"/>
<path d="M40.7 20.9c0-5.6-5.5-10.1-12.3-10.1s-12.3 4.500-12.3 10.1 5.500 10.1 12.3 10.1c1.500 0 3-.2 4.300-.6l3.900 2.100-1.100-3.400c3.200-1.900 5.200-4.800 5.200-8.200z"/>
<circle cx="9.6" cy="8.4" r="1.8" fill="#fff"/><circle cx="19.4" cy="8.4" r="1.8" fill="#fff"/>
<circle cx="24.3" cy="17.7" r="1.5" fill="#fff"/><circle cx="32.5" cy="17.7" r="1.5" fill="#fff"/>
</g>
<text x="703" y="507.5" textLength="91" lengthAdjust="spacing">公众号</text>
<text x="808.2" y="505.2" text-anchor="middle" font-size="34">·</text>
<text x="827.3" y="507.5" font-size="28" textLength="95" lengthAdjust="spacing">Matlab</text>
<text x="923.5" y="507.5" textLength="123" lengthAdjust="spacing">科研助手</text>
</g>
</svg>
</body></html>
